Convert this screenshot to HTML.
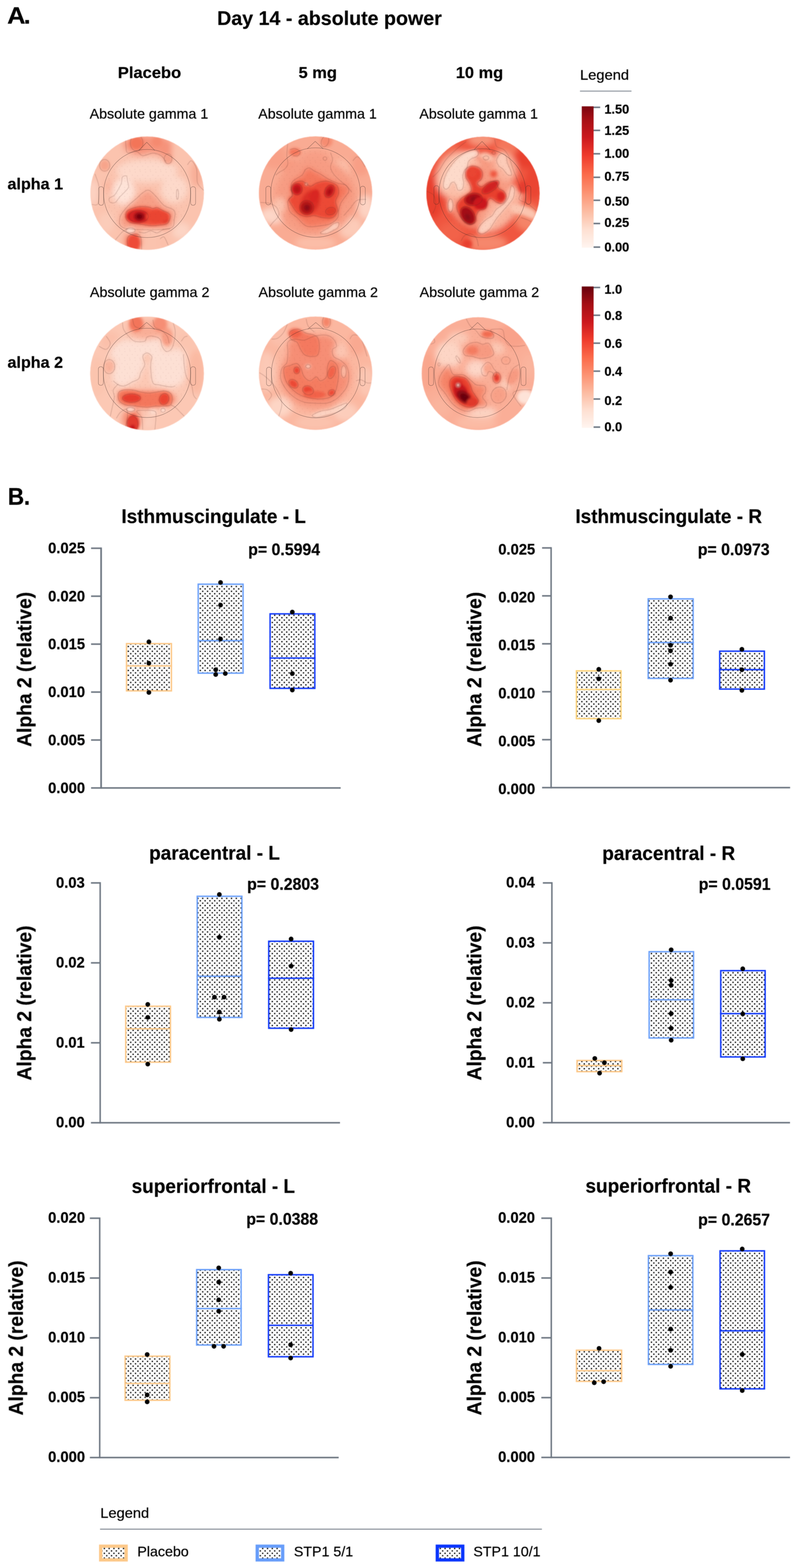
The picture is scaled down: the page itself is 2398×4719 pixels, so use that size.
<!DOCTYPE html>
<html lang="en">
<head>
<meta charset="utf-8">
<title>Day 14 - absolute power</title>
<style>
html,body{margin:0;padding:0;background:#fff;}
body{width:2398px;height:4719px;}
svg{display:block;font-family:'Liberation Sans', sans-serif;fill:#000;}
text{stroke:#000;stroke-width:0.45px;stroke-linejoin:round;}
</style>
</head>
<body>
<svg width="2398" height="4719" viewBox="0 0 2398 4719">
<defs>
<pattern id="dots" width="14.44" height="14.44" patternUnits="userSpaceOnUse">
<rect x="1.5" y="1.5" width="3.9" height="3.9" fill="#000"/>
<rect x="8.72" y="8.72" width="3.9" height="3.9" fill="#000"/>
</pattern>
<linearGradient id="cb" x1="0" y1="0" x2="0" y2="1">
<stop offset="0" stop-color="#67000d"/>
<stop offset="0.125" stop-color="#a50f15"/>
<stop offset="0.25" stop-color="#cb181d"/>
<stop offset="0.375" stop-color="#ef3b2c"/>
<stop offset="0.5" stop-color="#fb6a4a"/>
<stop offset="0.625" stop-color="#fc9272"/>
<stop offset="0.75" stop-color="#fcbba1"/>
<stop offset="0.875" stop-color="#fee0d2"/>
<stop offset="1" stop-color="#fff5f0"/>
</linearGradient>
<linearGradient id="cb1" x1="0" y1="0" x2="0" y2="1">
<stop offset="0" stop-color="#7b0510"/>
<stop offset="0.0885" stop-color="#a50f15"/>
<stop offset="0.21875" stop-color="#cb181d"/>
<stop offset="0.349" stop-color="#ef3b2c"/>
<stop offset="0.479" stop-color="#fb6a4a"/>
<stop offset="0.609" stop-color="#fc9272"/>
<stop offset="0.74" stop-color="#fcbba1"/>
<stop offset="0.87" stop-color="#fee0d2"/>
<stop offset="1" stop-color="#fff5f0"/>
</linearGradient>
<filter id="soft" color-interpolation-filters="sRGB" filterUnits="userSpaceOnUse" x="0" y="0" width="2398" height="4719"><feGaussianBlur stdDeviation="0.8" result="b"/><feComposite in="SourceGraphic" in2="b" operator="arithmetic" k1="0" k2="0.45" k3="0.55" k4="0"/></filter>
<filter id="bl" x="-50%" y="-50%" width="200%" height="200%"><feGaussianBlur stdDeviation="9"/></filter>
<filter id="bm" x="-50%" y="-50%" width="200%" height="200%"><feGaussianBlur stdDeviation="5"/></filter>
<filter id="bh" x="-50%" y="-50%" width="200%" height="200%"><feGaussianBlur stdDeviation="3"/></filter>
<filter id="be" x="-5%" y="-5%" width="110%" height="110%"><feGaussianBlur stdDeviation="1.1"/></filter>
<pattern id="sens" width="31" height="27" patternUnits="userSpaceOnUse"><circle cx="4" cy="5" r="0.95" fill="#6a3a30"/><circle cx="19" cy="3" r="0.95" fill="#6a3a30"/><circle cx="11" cy="16" r="0.95" fill="#6a3a30"/><circle cx="26" cy="14" r="0.95" fill="#6a3a30"/><circle cx="3" cy="24" r="0.95" fill="#6a3a30"/><circle cx="18" cy="25" r="0.95" fill="#6a3a30"/></pattern>
<clipPath id="tc0"><circle cx="442.75" cy="581.4" r="170.7"/></clipPath>
<clipPath id="tc1"><circle cx="949.4" cy="580.9" r="170.4"/></clipPath>
<clipPath id="tc2"><circle cx="1453.2" cy="581.8" r="170.3"/></clipPath>
<clipPath id="tc3"><circle cx="442.4" cy="1124" r="171"/></clipPath>
<clipPath id="tc4"><circle cx="949.4" cy="1123.2" r="170.4"/></clipPath>
<clipPath id="tc5"><circle cx="1438.5" cy="1124.3" r="169.6"/></clipPath>
</defs>
<rect width="2398" height="4719" fill="#fff"/>
<g filter="url(#be)"><g clip-path="url(#tc0)">
<rect x="232.05" y="370.7" width="421.4" height="421.4" fill="#fbc3ae"/>
<g filter="url(#bl)">
<rect x="232.05" y="370.7" width="421.4" height="421.4" fill="#fbc3ae"/>
<path d="M371.4 425.8C375.5 419.0 390.2 413.5 402.0 410.6C413.7 407.6 427.9 407.9 441.7 408.1C455.4 408.3 472.2 408.8 484.5 411.8C496.7 414.7 509.7 417.9 515.0 425.8C520.4 433.8 517.1 449.8 516.5 459.4C516.0 469.1 514.8 479.3 512.0 483.9C509.2 488.5 504.3 489.5 499.7 487.0C495.2 484.4 492.1 472.9 484.5 468.6C476.8 464.3 464.1 461.0 453.9 461.0C443.7 461.0 433.5 468.9 423.3 468.6C413.2 468.4 400.4 462.3 392.8 459.4C385.1 456.6 381.1 457.4 377.5 451.8C373.9 446.2 367.3 432.7 371.4 425.8Z" fill="#f6937a"/>
<ellipse cx="591.4" cy="523.6" rx="18.3" ry="39.7" fill="#f8ad96"/>
<ellipse cx="327.1" cy="560.3" rx="13.8" ry="18.3" fill="#f9b49d"/>
<ellipse cx="441.7" cy="514.5" rx="91.7" ry="33.6" fill="#fdd9ca"/>
<ellipse cx="371.4" cy="575.6" rx="33.6" ry="39.7" fill="#fee3d8"/>
<ellipse cx="524.2" cy="569.5" rx="39.7" ry="39.7" fill="#fdd9ca"/>
<path d="M447.8 572.5C454.4 574.3 461.5 583.2 469.2 590.8C476.8 598.5 484.5 611.2 493.6 618.3C502.8 625.5 519.1 626.5 524.2 633.6C529.3 640.8 525.7 652.5 524.2 661.1C522.7 669.8 526.7 680.5 515.0 685.6C503.3 690.7 477.8 691.7 453.9 691.7C430.0 691.7 386.9 691.7 371.4 685.6C355.9 679.5 358.7 665.7 360.7 655.0C362.7 644.3 375.2 631.1 383.6 621.4C392.0 611.7 403.5 603.8 411.1 597.0C418.8 590.1 423.3 584.2 429.5 580.2C435.6 576.1 441.2 570.7 447.8 572.5Z" fill="#f79f86"/>
<ellipse cx="398.9" cy="725.3" rx="27.5" ry="30.6" fill="#f6957b"/>
<ellipse cx="493.6" cy="731.4" rx="13.8" ry="18.3" fill="#fbbfa9"/>
<ellipse cx="545.6" cy="694.7" rx="27.5" ry="24.4" fill="#fcd4c4"/>
<ellipse cx="319.4" cy="670.3" rx="24.4" ry="30.6" fill="#fbccb9"/>
<ellipse cx="279.7" cy="578.6" rx="15.3" ry="36.7" fill="#fcd2c2"/>
</g>
<g filter="url(#bm)">
<ellipse cx="411.1" cy="430.4" rx="21.4" ry="19.9" fill="#f37458"/>
<ellipse cx="472.2" cy="425.8" rx="15.3" ry="15.3" fill="#f58a6f"/>
<ellipse cx="314.9" cy="497.6" rx="15.3" ry="16.8" fill="#f7a48b"/>
<ellipse cx="505.9" cy="477.8" rx="12.2" ry="15.3" fill="#f6a088"/>
<path d="M378.1 645.9C378.6 641.3 379.1 637.2 383.6 633.6C388.1 630.1 398.4 626.5 405.0 624.5C411.6 622.4 416.2 621.7 423.3 621.4C430.5 621.2 441.7 621.9 447.8 622.9C453.9 624.0 455.9 627.3 460.0 627.5C464.1 627.8 467.1 623.4 472.2 624.5C477.3 625.5 484.5 630.6 490.6 633.6C496.7 636.7 505.3 639.2 508.9 642.8C512.5 646.4 513.0 649.9 512.0 655.0C510.9 660.1 508.4 669.5 502.8 673.4C497.2 677.2 486.5 676.9 478.3 677.9C470.2 679.0 463.1 680.0 453.9 679.5C444.7 679.0 433.5 676.4 423.3 674.9C413.2 673.4 399.9 672.6 392.8 670.3C385.7 668.0 383.0 665.2 380.6 661.1C378.1 657.1 377.6 650.4 378.1 645.9Z" fill="#ef4f3a"/>
<ellipse cx="392.8" cy="693.2" rx="13.8" ry="7.6" fill="#fddfd3"/>
<ellipse cx="460.0" cy="699.3" rx="33.6" ry="6.7" fill="#fbc7b3"/>
<ellipse cx="402.0" cy="731.4" rx="20.8" ry="27.5" fill="#ee4b37"/>
</g>
<g filter="url(#bh)">
<ellipse cx="415.7" cy="651.4" rx="35.1" ry="19.6" fill="#d42421"/>
<ellipse cx="419.4" cy="651.7" rx="16.8" ry="13.8" fill="#9a0c13"/>
<ellipse cx="419.4" cy="651.7" rx="7.9" ry="6.7" fill="#6d010e"/>
<ellipse cx="458.5" cy="655.0" rx="9.8" ry="9.2" fill="#e0382c"/>
<ellipse cx="494.2" cy="660.5" rx="12.2" ry="10.4" fill="#dc3a2c"/>
<ellipse cx="472.2" cy="652.0" rx="33.6" ry="18.3" fill="#ea4532"/>
</g>
<path d="M378.1 645.9C378.6 641.3 379.1 637.2 383.6 633.6C388.1 630.1 398.4 626.5 405.0 624.5C411.6 622.4 416.2 621.7 423.3 621.4C430.5 621.2 441.7 621.9 447.8 622.9C453.9 624.0 455.9 627.3 460.0 627.5C464.1 627.8 467.1 623.4 472.2 624.5C477.3 625.5 484.5 630.6 490.6 633.6C496.7 636.7 505.3 639.2 508.9 642.8C512.5 646.4 513.0 649.9 512.0 655.0C510.9 660.1 508.4 669.5 502.8 673.4C497.2 677.2 486.5 676.9 478.3 677.9C470.2 679.0 463.1 680.0 453.9 679.5C444.7 679.0 433.5 676.4 423.3 674.9C413.2 673.4 399.9 672.6 392.8 670.3C385.7 668.0 383.0 665.2 380.6 661.1C378.1 657.1 377.6 650.4 378.1 645.9Z" fill="none" stroke="#5a3028" stroke-opacity="0.34" stroke-width="1.5"/>
<path d="M447.8 572.5C454.4 574.3 461.5 583.2 469.2 590.8C476.8 598.5 484.5 611.2 493.6 618.3C502.8 625.5 519.1 626.5 524.2 633.6C529.3 640.8 525.7 652.5 524.2 661.1C522.7 669.8 526.7 680.5 515.0 685.6C503.3 690.7 477.8 691.7 453.9 691.7C430.0 691.7 386.9 691.7 371.4 685.6C355.9 679.5 358.7 665.7 360.7 655.0C362.7 644.3 375.2 631.1 383.6 621.4C392.0 611.7 403.5 603.8 411.1 597.0C418.8 590.1 423.3 584.2 429.5 580.2C435.6 576.1 441.2 570.7 447.8 572.5Z" fill="none" stroke="#5a3028" stroke-opacity="0.34" stroke-width="1.5"/>
<ellipse cx="417.2" cy="651.4" rx="29.0" ry="18.3" fill="none" stroke="#5a3028" stroke-opacity="0.34" stroke-width="1.5"/>
<path d="M368.3 532.8C370.9 529.2 378.0 527.7 380.6 529.7C383.1 531.8 382.6 539.4 383.6 545.0C384.6 550.6 388.2 557.7 386.7 563.3C385.1 568.9 379.0 573.5 374.5 578.6C369.9 583.7 363.8 588.8 359.2 593.9C354.6 599.0 351.5 606.6 347.0 609.2C342.4 611.7 334.7 611.2 331.7 609.2C328.6 607.1 326.6 600.5 328.6 597.0C330.7 593.4 339.3 592.4 343.9 587.8C348.5 583.2 352.6 575.6 356.1 569.5C359.7 563.3 363.2 557.2 365.3 551.1C367.3 545.0 365.8 536.4 368.3 532.8Z" fill="none" stroke="#5a3028" stroke-opacity="0.34" stroke-width="1.5"/>
<ellipse cx="534.0" cy="584.7" rx="3.1" ry="15.3" fill="none" stroke="#5a3028" stroke-opacity="0.34" stroke-width="1.5"/>
<ellipse cx="392.8" cy="693.2" rx="13.8" ry="7.6" fill="none" stroke="#5a3028" stroke-opacity="0.34" stroke-width="1.5"/>
<ellipse cx="411.1" cy="430.4" rx="18.9" ry="24.4" fill="none" stroke="#5a3028" stroke-opacity="0.34" stroke-width="1.5"/>
<ellipse cx="314.9" cy="497.6" rx="15.3" ry="17.7" fill="none" stroke="#5a3028" stroke-opacity="0.34" stroke-width="1.5"/>
<ellipse cx="505.9" cy="477.8" rx="11.6" ry="14.7" fill="none" stroke="#5a3028" stroke-opacity="0.34" stroke-width="1.5"/>
<path d="M377.5 413.6C377.8 418.2 378.0 433.5 379.0 441.1C380.1 448.8 378.3 456.9 383.6 459.4C389.0 462.0 403.5 454.9 411.1 456.4C418.8 457.9 421.3 467.9 429.5 468.6C437.6 469.4 450.8 461.0 460.0 461.0C469.2 461.0 477.8 464.3 484.5 468.6C491.1 472.9 497.2 483.9 499.7 487.0" fill="none" stroke="#5a3028" stroke-opacity="0.34" stroke-width="1.5"/>
<path d="M563.9 496.1C565.9 494.1 571.6 481.9 576.1 483.9C580.7 485.9 588.4 497.1 591.4 508.3C594.5 519.5 590.4 539.9 594.5 551.1C598.5 562.3 612.3 571.5 615.9 575.6" fill="none" stroke="#5a3028" stroke-opacity="0.34" stroke-width="1.5"/>
<path d="M276.7 615.3C279.7 614.8 291.4 620.9 295.0 612.2C298.6 603.6 299.6 578.1 298.1 563.3C296.5 548.6 287.9 530.2 285.8 523.6" fill="none" stroke="#5a3028" stroke-opacity="0.34" stroke-width="1.5"/>
<path d="M386.7 751.3C386.2 745.4 380.6 724.0 383.6 716.1C386.7 708.2 398.4 704.4 405.0 703.9C411.6 703.4 419.8 705.2 423.3 713.1C426.9 721.0 425.9 744.9 426.4 751.3" fill="none" stroke="#5a3028" stroke-opacity="0.34" stroke-width="1.5"/>
<path d="M481.4 719.2C483.4 718.2 489.6 710.0 493.6 713.1C497.7 716.1 503.8 733.5 505.9 737.5" fill="none" stroke="#5a3028" stroke-opacity="0.34" stroke-width="1.5"/>
<path d="M347.0 722.2C350.5 718.2 362.2 703.4 368.3 697.8C374.5 692.2 381.1 690.2 383.6 688.6" fill="none" stroke="#5a3028" stroke-opacity="0.34" stroke-width="1.5"/>
<path d="M417.2 697.8C420.3 698.3 429.5 701.4 435.6 700.9C441.7 700.3 447.8 694.7 453.9 694.7C460.0 694.7 466.1 701.4 472.2 700.9C478.3 700.3 484.0 693.7 490.6 691.7C497.2 689.7 508.4 689.1 512.0 688.6" fill="none" stroke="#5a3028" stroke-opacity="0.34" stroke-width="1.5"/>
<circle cx="442.6" cy="582.3" r="124.9" fill="url(#sens)" opacity="0.22"/>
</g></g>
<ellipse cx="442.6" cy="582.3" rx="130.9" ry="132.6" fill="none" stroke="#3a2a28" stroke-opacity="0.36" stroke-width="1.8"/>
<path d="M417.6 452.69999999999993 L441.6 428.19999999999993 L465.6 452.69999999999993" fill="none" stroke="#3a2a28" stroke-opacity="0.36" stroke-width="1.8" stroke-linejoin="round"/>
<rect x="296.70000000000005" y="561.8" width="15" height="56" rx="7" ry="7" fill="none" stroke="#3a2a28" stroke-opacity="0.36" stroke-width="1.8"/>
<rect x="573.5" y="561.8" width="15" height="56" rx="7" ry="7" fill="none" stroke="#3a2a28" stroke-opacity="0.36" stroke-width="1.8"/>
<g filter="url(#be)"><g clip-path="url(#tc1)">
<rect x="739.0" y="370.5" width="420.8" height="420.8" fill="#f9ab93"/>
<g filter="url(#bl)">
<rect x="739.0" y="370.5" width="420.8" height="420.8" fill="#f9ab93"/>
<ellipse cx="826.4" cy="471.7" rx="36.7" ry="36.7" fill="#f8a087"/>
<ellipse cx="820.3" cy="648.9" rx="39.7" ry="24.4" fill="#fdd6c7"/>
<ellipse cx="948.6" cy="731.4" rx="61.1" ry="21.4" fill="#fbbda7"/>
<ellipse cx="1055.6" cy="685.6" rx="36.7" ry="33.6" fill="#fccbb8"/>
<ellipse cx="1101.4" cy="624.5" rx="24.4" ry="36.7" fill="#fdd3c3"/>
<ellipse cx="1086.1" cy="496.1" rx="27.5" ry="33.6" fill="#f89f86"/>
<ellipse cx="948.6" cy="480.8" rx="45.8" ry="27.5" fill="#f89f86"/>
<ellipse cx="1025.0" cy="517.5" rx="27.5" ry="36.7" fill="#fbbfa9"/>
<ellipse cx="878.3" cy="502.2" rx="30.6" ry="24.4" fill="#f89a80"/>
<ellipse cx="948.6" cy="593.9" rx="122.2" ry="116.1" fill="#f79c83"/>
<path d="M930.3 505.3C934.9 505.8 940.0 511.4 945.6 514.5C951.2 517.5 956.8 519.5 963.9 523.6C971.0 527.7 979.7 534.3 988.3 538.9C997.0 543.5 1007.2 548.1 1015.9 551.1C1024.5 554.2 1034.7 553.2 1040.3 557.2C1045.9 561.3 1050.0 569.5 1049.5 575.6C1049.0 581.7 1041.3 587.8 1037.2 593.9C1033.2 600.0 1028.1 605.6 1025.0 612.2C1022.0 618.9 1020.4 626.5 1018.9 633.6C1017.4 640.8 1019.9 648.4 1015.9 655.0C1011.8 661.6 1003.1 669.3 994.5 673.4C985.8 677.4 974.1 677.9 963.9 679.5C953.7 681.0 941.5 683.0 933.3 682.5C925.2 682.0 921.6 681.0 915.0 676.4C908.4 671.8 900.8 661.6 893.6 655.0C886.5 648.4 876.8 644.8 872.2 636.7C867.6 628.5 865.1 614.3 866.1 606.1C867.1 598.0 876.8 594.9 878.3 587.8C879.9 580.7 874.8 570.5 875.3 563.3C875.8 556.2 875.8 551.1 881.4 545.0C887.0 538.9 902.8 532.3 908.9 526.7C915.0 521.1 914.5 515.0 918.1 511.4C921.6 507.8 925.7 504.8 930.3 505.3Z" fill="#f4775c"/>
<ellipse cx="841.7" cy="618.3" rx="18.3" ry="24.4" fill="#fbc3ae"/>
</g>
<g filter="url(#bm)">
<ellipse cx="982.2" cy="425.8" rx="18.3" ry="16.8" fill="#f68c71"/>
<ellipse cx="887.5" cy="457.9" rx="18.3" ry="12.2" fill="#f4775c"/>
<path d="M884.5 551.1C890.1 547.0 900.8 543.5 908.9 545.0C917.0 546.5 926.2 559.3 933.3 560.3C940.5 561.3 943.5 553.7 951.7 551.1C959.8 548.6 972.1 544.0 982.2 545.0C992.4 546.0 1006.7 551.1 1012.8 557.2C1018.9 563.3 1019.4 573.5 1018.9 581.7C1018.4 589.8 1010.2 597.5 1009.7 606.1C1009.2 614.8 1017.4 625.5 1015.9 633.6C1014.3 641.8 1008.2 651.5 1000.6 655.0C992.9 658.6 979.2 656.0 970.0 655.0C960.8 654.0 953.7 649.4 945.6 648.9C937.4 648.4 929.3 653.0 921.1 652.0C913.0 650.9 903.8 648.4 896.7 642.8C889.5 637.2 882.9 625.5 878.3 618.3C873.8 611.2 868.7 605.1 869.2 600.0C869.7 594.9 880.4 592.9 881.4 587.8C882.4 582.7 874.8 575.6 875.3 569.5C875.8 563.3 878.9 555.2 884.5 551.1Z" fill="#ec4a36"/>
<ellipse cx="933.3" cy="609.2" rx="27.5" ry="39.7" fill="#dc2f27" transform="rotate(25 933.3 609.2)"/>
<path d="M963.9 700.9C965.4 697.8 981.7 690.2 988.3 685.6C995.0 681.0 998.5 675.9 1003.6 673.4C1008.7 670.8 1016.9 668.3 1018.9 670.3C1020.9 672.3 1019.9 681.0 1015.9 685.6C1011.8 690.2 1000.6 694.7 994.5 697.8C988.3 700.9 984.3 703.4 979.2 703.9C974.1 704.4 962.4 703.9 963.9 700.9Z" fill="#fccfbd"/>
</g>
<g filter="url(#bh)">
<ellipse cx="893.6" cy="569.5" rx="14.7" ry="15.9" fill="#c9181d"/>
<ellipse cx="893.6" cy="570.1" rx="6.7" ry="7.3" fill="#b01217"/>
<ellipse cx="991.4" cy="575.6" rx="12.8" ry="18.9" fill="#c41a1f" transform="rotate(25 991.4 575.6)"/>
<ellipse cx="991.4" cy="577.1" rx="5.5" ry="9.2" fill="#a91016" transform="rotate(25 991.4 577.1)"/>
<ellipse cx="922.7" cy="624.5" rx="18.9" ry="18.9" fill="#b01217"/>
<ellipse cx="923.6" cy="625.1" rx="8.6" ry="8.6" fill="#8c0a12"/>
<ellipse cx="994.5" cy="635.2" rx="15.3" ry="11.0" fill="#e03a2c" transform="rotate(-15 994.5 635.2)"/>
<ellipse cx="945.6" cy="590.8" rx="12.2" ry="21.4" fill="#d92723" transform="rotate(25 945.6 590.8)"/>
<ellipse cx="921.7" cy="554.2" rx="4.3" ry="4.3" fill="#fbb9a3"/>
</g>
<path d="M930.3 505.3C934.9 505.8 940.0 511.4 945.6 514.5C951.2 517.5 956.8 519.5 963.9 523.6C971.0 527.7 979.7 534.3 988.3 538.9C997.0 543.5 1007.2 548.1 1015.9 551.1C1024.5 554.2 1034.7 553.2 1040.3 557.2C1045.9 561.3 1050.0 569.5 1049.5 575.6C1049.0 581.7 1041.3 587.8 1037.2 593.9C1033.2 600.0 1028.1 605.6 1025.0 612.2C1022.0 618.9 1020.4 626.5 1018.9 633.6C1017.4 640.8 1019.9 648.4 1015.9 655.0C1011.8 661.6 1003.1 669.3 994.5 673.4C985.8 677.4 974.1 677.9 963.9 679.5C953.7 681.0 941.5 683.0 933.3 682.5C925.2 682.0 921.6 681.0 915.0 676.4C908.4 671.8 900.8 661.6 893.6 655.0C886.5 648.4 876.8 644.8 872.2 636.7C867.6 628.5 865.1 614.3 866.1 606.1C867.1 598.0 876.8 594.9 878.3 587.8C879.9 580.7 874.8 570.5 875.3 563.3C875.8 556.2 875.8 551.1 881.4 545.0C887.0 538.9 902.8 532.3 908.9 526.7C915.0 521.1 914.5 515.0 918.1 511.4C921.6 507.8 925.7 504.8 930.3 505.3Z" fill="none" stroke="#5a3028" stroke-opacity="0.34" stroke-width="1.5"/>
<path d="M884.5 551.1C890.1 547.0 900.8 543.5 908.9 545.0C917.0 546.5 926.2 559.3 933.3 560.3C940.5 561.3 943.5 553.7 951.7 551.1C959.8 548.6 972.1 544.0 982.2 545.0C992.4 546.0 1006.7 551.1 1012.8 557.2C1018.9 563.3 1019.4 573.5 1018.9 581.7C1018.4 589.8 1010.2 597.5 1009.7 606.1C1009.2 614.8 1017.4 625.5 1015.9 633.6C1014.3 641.8 1008.2 651.5 1000.6 655.0C992.9 658.6 979.2 656.0 970.0 655.0C960.8 654.0 953.7 649.4 945.6 648.9C937.4 648.4 929.3 653.0 921.1 652.0C913.0 650.9 903.8 648.4 896.7 642.8C889.5 637.2 882.9 625.5 878.3 618.3C873.8 611.2 868.7 605.1 869.2 600.0C869.7 594.9 880.4 592.9 881.4 587.8C882.4 582.7 874.8 575.6 875.3 569.5C875.8 563.3 878.9 555.2 884.5 551.1Z" fill="none" stroke="#5a3028" stroke-opacity="0.34" stroke-width="1.5"/>
<ellipse cx="893.6" cy="569.5" rx="15.9" ry="17.1" fill="none" stroke="#5a3028" stroke-opacity="0.34" stroke-width="1.5"/>
<ellipse cx="991.4" cy="575.6" rx="14.1" ry="20.2" fill="none" stroke="#5a3028" stroke-opacity="0.34" stroke-width="1.5" transform="rotate(25 991.4 575.6)"/>
<ellipse cx="922.7" cy="624.5" rx="21.4" ry="21.4" fill="none" stroke="#5a3028" stroke-opacity="0.34" stroke-width="1.5"/>
<ellipse cx="994.5" cy="635.2" rx="15.3" ry="11.0" fill="none" stroke="#5a3028" stroke-opacity="0.34" stroke-width="1.5" transform="rotate(-15 994.5 635.2)"/>
<ellipse cx="921.7" cy="554.2" rx="4.9" ry="4.9" fill="none" stroke="#5a3028" stroke-opacity="0.34" stroke-width="1.5"/>
<ellipse cx="977.7" cy="477.2" rx="5.5" ry="5.5" fill="none" stroke="#5a3028" stroke-opacity="0.34" stroke-width="1.5"/>
<ellipse cx="977.7" cy="425.8" rx="10.7" ry="16.8" fill="none" stroke="#5a3028" stroke-opacity="0.34" stroke-width="1.5" transform="rotate(20 977.7 425.8)"/>
<path d="M963.9 700.9C965.4 697.8 981.7 690.2 988.3 685.6C995.0 681.0 998.5 675.9 1003.6 673.4C1008.7 670.8 1016.9 668.3 1018.9 670.3C1020.9 672.3 1019.9 681.0 1015.9 685.6C1011.8 690.2 1000.6 694.7 994.5 697.8C988.3 700.9 984.3 703.4 979.2 703.9C974.1 704.4 962.4 703.9 963.9 700.9Z" fill="none" stroke="#5a3028" stroke-opacity="0.34" stroke-width="1.5"/>
<path d="M866.1 425.8C865.6 432.5 863.1 454.4 863.1 465.6C863.1 476.8 867.1 485.9 866.1 493.1C865.1 500.2 861.0 504.3 857.0 508.3C852.9 512.4 846.3 514.5 841.7 517.5C837.1 520.6 831.5 525.1 829.4 526.7" fill="none" stroke="#5a3028" stroke-opacity="0.34" stroke-width="1.5"/>
<path d="M994.5 459.4C995.5 463.0 1000.6 473.7 1000.6 480.8C1000.6 488.0 994.0 495.1 994.5 502.2C995.0 509.4 998.5 516.5 1003.6 523.6C1008.7 530.8 1018.4 538.9 1025.0 545.0C1031.6 551.1 1037.8 554.7 1043.4 560.3C1049.0 565.9 1056.1 575.6 1058.6 578.6" fill="none" stroke="#5a3028" stroke-opacity="0.34" stroke-width="1.5"/>
<path d="M1034.2 648.9C1037.8 644.8 1049.0 632.1 1055.6 624.5C1062.2 616.8 1066.3 607.1 1073.9 603.1C1081.6 599.0 1096.8 600.5 1101.4 600.0" fill="none" stroke="#5a3028" stroke-opacity="0.34" stroke-width="1.5"/>
<path d="M783.6 609.2C788.2 609.7 803.0 609.7 811.1 612.2C819.3 614.8 827.9 618.3 832.5 624.5C837.1 630.6 840.7 641.3 838.6 648.9C836.6 656.5 824.9 664.7 820.3 670.3C815.7 675.9 812.6 680.5 811.1 682.5" fill="none" stroke="#5a3028" stroke-opacity="0.34" stroke-width="1.5"/>
<path d="M1061.7 483.9C1063.7 481.9 1069.8 472.2 1073.9 471.7C1078.0 471.2 1082.1 475.7 1086.1 480.8C1090.2 485.9 1096.3 498.7 1098.4 502.2" fill="none" stroke="#5a3028" stroke-opacity="0.34" stroke-width="1.5"/>
<path d="M872.2 450.3C874.8 449.8 882.4 446.2 887.5 447.2C892.6 448.2 901.3 452.8 902.8 456.4C904.3 460.0 900.2 466.6 896.7 468.6C893.1 470.7 883.9 468.6 881.4 468.6" fill="none" stroke="#5a3028" stroke-opacity="0.34" stroke-width="1.5"/>
<circle cx="949.4" cy="579.5" r="128.6" fill="url(#sens)" opacity="0.22"/>
</g></g>
<ellipse cx="949.4" cy="579.5" rx="134.6" ry="134.6" fill="none" stroke="#3a2a28" stroke-opacity="0.36" stroke-width="1.8"/>
<path d="M924.4 447.9 L948.4 425.4 L972.4 447.9" fill="none" stroke="#3a2a28" stroke-opacity="0.36" stroke-width="1.8" stroke-linejoin="round"/>
<rect x="799.8" y="560.5" width="15" height="56" rx="7" ry="7" fill="none" stroke="#3a2a28" stroke-opacity="0.36" stroke-width="1.8"/>
<rect x="1084.0" y="560.5" width="15" height="56" rx="7" ry="7" fill="none" stroke="#3a2a28" stroke-opacity="0.36" stroke-width="1.8"/>
<g filter="url(#be)"><g clip-path="url(#tc2)">
<rect x="1242.9" y="371.49999999999994" width="420.6" height="420.6" fill="#f0573f"/>
<g filter="url(#bl)">
<rect x="1242.9" y="371.49999999999994" width="420.6" height="420.6" fill="#f0573f"/>
<ellipse cx="1301.9" cy="593.9" rx="33.6" ry="67.2" fill="#e8402f"/>
<ellipse cx="1341.7" cy="456.4" rx="36.7" ry="36.7" fill="#f26a50"/>
<ellipse cx="1448.6" cy="419.7" rx="39.7" ry="18.3" fill="#f7967c"/>
<ellipse cx="1525.0" cy="441.1" rx="33.6" ry="30.6" fill="#f4775c"/>
<ellipse cx="1586.1" cy="471.7" rx="36.7" ry="36.7" fill="#e8402f"/>
<ellipse cx="1607.5" cy="551.1" rx="27.5" ry="48.9" fill="#ea4532"/>
<ellipse cx="1586.1" cy="655.0" rx="36.7" ry="39.7" fill="#f58468"/>
<ellipse cx="1463.9" cy="731.4" rx="61.1" ry="24.4" fill="#f6876c"/>
<ellipse cx="1357.0" cy="700.9" rx="36.7" ry="30.6" fill="#f26248"/>
<ellipse cx="1445.6" cy="575.6" rx="100.8" ry="110.0" fill="#f79a81"/>
<ellipse cx="1378.3" cy="526.7" rx="61.1" ry="73.3" fill="#fbbfa9" transform="rotate(35 1378.3 526.7)"/>
<ellipse cx="1512.8" cy="630.6" rx="36.7" ry="79.4" fill="#fab49d" transform="rotate(40 1512.8 630.6)"/>
<ellipse cx="1518.9" cy="502.2" rx="33.6" ry="45.8" fill="#fab49d" transform="rotate(-20 1518.9 502.2)"/>
</g>
<g filter="url(#bm)">
<path d="M1334.0 560.3C1333.5 554.2 1335.8 541.4 1338.6 532.8C1341.4 524.1 1345.7 516.5 1350.8 508.3C1355.9 500.2 1362.6 491.0 1369.2 483.9C1375.8 476.8 1382.9 470.7 1390.6 465.6C1398.2 460.5 1407.9 455.6 1415.0 453.3C1422.1 451.0 1429.3 450.3 1433.3 451.8C1437.4 453.3 1439.5 459.2 1439.5 462.5C1439.5 465.8 1436.9 469.1 1433.3 471.7C1429.8 474.2 1422.1 475.2 1418.1 477.8C1414.0 480.3 1410.9 482.9 1408.9 487.0C1406.9 491.0 1407.9 497.6 1405.8 502.2C1403.8 506.8 1399.0 509.4 1396.7 514.5C1394.4 519.5 1392.3 526.7 1392.1 532.8C1391.8 538.9 1395.4 545.0 1395.1 551.1C1394.9 557.2 1393.4 565.9 1390.6 569.5C1387.8 573.0 1381.4 574.6 1378.3 572.5C1375.3 570.5 1374.3 561.3 1372.2 557.2C1370.2 553.2 1368.7 549.1 1366.1 548.1C1363.6 547.0 1359.5 548.6 1357.0 551.1C1354.4 553.7 1353.4 560.3 1350.8 563.3C1348.3 566.4 1344.5 570.0 1341.7 569.5C1338.9 568.9 1334.5 566.4 1334.0 560.3Z" fill="#fddaca"/>
<path d="M1494.5 480.8C1495.5 474.7 1502.1 464.5 1506.7 462.5C1511.3 460.5 1518.7 464.0 1522.0 468.6C1525.3 473.2 1524.3 482.9 1526.5 490.0C1528.8 497.1 1533.7 505.3 1535.7 511.4C1537.8 517.5 1540.3 524.4 1538.8 526.7C1537.2 529.0 1530.9 528.2 1526.5 525.1C1522.2 522.1 1517.1 512.7 1512.8 508.3C1508.5 504.0 1503.6 503.8 1500.6 499.2C1497.5 494.6 1493.4 487.0 1494.5 480.8Z" fill="#fccbb8"/>
<path d="M1538.8 558.8C1541.1 557.7 1546.9 563.6 1547.9 569.5C1549.0 575.3 1547.4 586.8 1544.9 593.9C1542.3 601.0 1537.8 605.6 1532.7 612.2C1527.6 618.9 1520.4 626.5 1514.3 633.6C1508.2 640.8 1501.1 648.4 1496.0 655.0C1490.9 661.6 1487.8 667.2 1483.8 673.4C1479.7 679.5 1476.9 686.6 1471.5 691.7C1466.2 696.8 1457.3 702.9 1451.7 703.9C1446.1 704.9 1439.2 701.9 1437.9 697.8C1436.7 693.7 1440.0 685.6 1444.0 679.5C1448.1 673.4 1456.3 666.2 1462.4 661.1C1468.5 656.0 1475.6 654.0 1480.7 648.9C1485.8 643.8 1486.8 636.7 1492.9 630.6C1499.0 624.5 1511.3 618.3 1517.4 612.2C1523.5 606.1 1526.8 600.0 1529.6 593.9C1532.4 587.8 1532.7 581.4 1534.2 575.6C1535.7 569.7 1536.5 559.8 1538.8 558.8Z" fill="#fccfbd"/>
<ellipse cx="1355.4" cy="618.3" rx="7.6" ry="19.9" fill="#fcd0be"/>
<path d="M1439.5 468.6C1439.5 465.1 1451.7 460.0 1457.8 459.4C1463.9 458.9 1471.0 462.5 1476.1 465.6C1481.2 468.6 1488.3 474.2 1488.3 477.8C1488.3 481.3 1481.2 486.4 1476.1 487.0C1471.0 487.5 1463.9 483.9 1457.8 480.8C1451.7 477.8 1439.5 472.2 1439.5 468.6Z" fill="#fbbfa9"/>
<path d="M1534.5 619.9C1536.9 615.8 1546.7 612.5 1558.9 615.0C1571.2 617.4 1599.7 627.2 1607.8 634.5C1616.0 641.9 1613.9 657.0 1607.8 659.0C1601.7 661.0 1581.8 650.0 1571.2 646.8C1560.6 643.5 1550.4 643.9 1544.3 639.4C1538.2 635.0 1532.0 624.0 1534.5 619.9Z" fill="#fbc4af"/>
<path d="M1402.8 508.3C1406.1 502.7 1414.5 499.7 1421.1 499.2C1427.7 498.7 1437.4 501.7 1442.5 505.3C1447.6 508.9 1450.7 515.0 1451.7 520.6C1452.7 526.2 1451.2 533.8 1448.6 538.9C1446.1 544.0 1436.4 547.3 1436.4 551.1C1436.4 554.9 1443.0 562.3 1448.6 561.8C1454.2 561.3 1462.9 550.4 1470.0 548.1C1477.1 545.8 1486.3 545.0 1491.4 548.1C1496.5 551.1 1496.5 561.8 1500.6 566.4C1504.6 571.0 1512.0 571.0 1515.9 575.6C1519.7 580.2 1524.0 587.8 1523.5 593.9C1523.0 600.0 1517.6 609.7 1512.8 612.2C1508.0 614.8 1500.6 611.7 1494.5 609.2C1488.3 606.6 1481.0 597.0 1476.1 597.0C1471.3 597.0 1468.0 604.1 1465.4 609.2C1462.9 614.3 1464.7 623.4 1460.8 627.5C1457.0 631.6 1447.1 630.1 1442.5 633.6C1437.9 637.2 1435.1 643.3 1433.3 648.9C1431.6 654.5 1434.6 662.9 1431.8 667.2C1429.0 671.6 1422.7 675.4 1416.5 674.9C1410.4 674.4 1401.0 669.0 1395.1 664.2C1389.3 659.3 1385.0 653.5 1381.4 645.9C1377.8 638.2 1372.7 626.5 1373.8 618.3C1374.8 610.2 1382.2 602.6 1387.5 597.0C1392.9 591.4 1400.8 588.8 1405.8 584.7C1410.9 580.7 1417.0 578.1 1418.1 572.5C1419.1 566.9 1414.8 557.7 1412.0 551.1C1409.2 544.5 1402.8 539.9 1401.3 532.8C1399.7 525.7 1399.5 513.9 1402.8 508.3Z" fill="#e8402f"/>
<ellipse cx="1485.3" cy="523.6" rx="10.7" ry="10.7" fill="#f0573f"/>
<ellipse cx="1573.9" cy="563.3" rx="15.3" ry="18.3" fill="#e63e2e"/>
<ellipse cx="1405.8" cy="734.5" rx="15.3" ry="15.3" fill="#e8402f"/>
</g>
<g filter="url(#bh)">
<ellipse cx="1421.1" cy="519.0" rx="13.8" ry="13.8" fill="#ea4532"/>
<ellipse cx="1476.1" cy="563.3" rx="29.0" ry="11.6" fill="#d02222" transform="rotate(-35 1476.1 563.3)"/>
<ellipse cx="1424.2" cy="600.0" rx="26.0" ry="17.7" fill="#a91016" transform="rotate(-10 1424.2 600.0)"/>
<ellipse cx="1407.4" cy="648.9" rx="18.9" ry="28.1" fill="#a30f15" transform="rotate(-30 1407.4 648.9)"/>
<ellipse cx="1506.7" cy="590.8" rx="11.6" ry="12.8" fill="#d92723"/>
<ellipse cx="1425.7" cy="600.0" rx="9.8" ry="7.9" fill="#8c0a12"/>
<ellipse cx="1407.4" cy="653.5" rx="7.9" ry="11.0" fill="#8c0a12" transform="rotate(-30 1407.4 653.5)"/>
<ellipse cx="1445.6" cy="612.2" rx="21.4" ry="18.3" fill="#cb181d"/>
</g>
<path d="M1334.0 560.3C1333.5 554.2 1335.8 541.4 1338.6 532.8C1341.4 524.1 1345.7 516.5 1350.8 508.3C1355.9 500.2 1362.6 491.0 1369.2 483.9C1375.8 476.8 1382.9 470.7 1390.6 465.6C1398.2 460.5 1407.9 455.6 1415.0 453.3C1422.1 451.0 1429.3 450.3 1433.3 451.8C1437.4 453.3 1439.5 459.2 1439.5 462.5C1439.5 465.8 1436.9 469.1 1433.3 471.7C1429.8 474.2 1422.1 475.2 1418.1 477.8C1414.0 480.3 1410.9 482.9 1408.9 487.0C1406.9 491.0 1407.9 497.6 1405.8 502.2C1403.8 506.8 1399.0 509.4 1396.7 514.5C1394.4 519.5 1392.3 526.7 1392.1 532.8C1391.8 538.9 1395.4 545.0 1395.1 551.1C1394.9 557.2 1393.4 565.9 1390.6 569.5C1387.8 573.0 1381.4 574.6 1378.3 572.5C1375.3 570.5 1374.3 561.3 1372.2 557.2C1370.2 553.2 1368.7 549.1 1366.1 548.1C1363.6 547.0 1359.5 548.6 1357.0 551.1C1354.4 553.7 1353.4 560.3 1350.8 563.3C1348.3 566.4 1344.5 570.0 1341.7 569.5C1338.9 568.9 1334.5 566.4 1334.0 560.3Z" fill="none" stroke="#5a3028" stroke-opacity="0.34" stroke-width="1.5"/>
<path d="M1494.5 480.8C1495.5 474.7 1502.1 464.5 1506.7 462.5C1511.3 460.5 1518.7 464.0 1522.0 468.6C1525.3 473.2 1524.3 482.9 1526.5 490.0C1528.8 497.1 1533.7 505.3 1535.7 511.4C1537.8 517.5 1540.3 524.4 1538.8 526.7C1537.2 529.0 1530.9 528.2 1526.5 525.1C1522.2 522.1 1517.1 512.7 1512.8 508.3C1508.5 504.0 1503.6 503.8 1500.6 499.2C1497.5 494.6 1493.4 487.0 1494.5 480.8Z" fill="none" stroke="#5a3028" stroke-opacity="0.34" stroke-width="1.5"/>
<path d="M1538.8 558.8C1541.1 557.7 1546.9 563.6 1547.9 569.5C1549.0 575.3 1547.4 586.8 1544.9 593.9C1542.3 601.0 1537.8 605.6 1532.7 612.2C1527.6 618.9 1520.4 626.5 1514.3 633.6C1508.2 640.8 1501.1 648.4 1496.0 655.0C1490.9 661.6 1487.8 667.2 1483.8 673.4C1479.7 679.5 1476.9 686.6 1471.5 691.7C1466.2 696.8 1457.3 702.9 1451.7 703.9C1446.1 704.9 1439.2 701.9 1437.9 697.8C1436.7 693.7 1440.0 685.6 1444.0 679.5C1448.1 673.4 1456.3 666.2 1462.4 661.1C1468.5 656.0 1475.6 654.0 1480.7 648.9C1485.8 643.8 1486.8 636.7 1492.9 630.6C1499.0 624.5 1511.3 618.3 1517.4 612.2C1523.5 606.1 1526.8 600.0 1529.6 593.9C1532.4 587.8 1532.7 581.4 1534.2 575.6C1535.7 569.7 1536.5 559.8 1538.8 558.8Z" fill="none" stroke="#5a3028" stroke-opacity="0.34" stroke-width="1.5"/>
<path d="M1402.8 508.3C1406.1 502.7 1414.5 499.7 1421.1 499.2C1427.7 498.7 1437.4 501.7 1442.5 505.3C1447.6 508.9 1450.7 515.0 1451.7 520.6C1452.7 526.2 1451.2 533.8 1448.6 538.9C1446.1 544.0 1436.4 547.3 1436.4 551.1C1436.4 554.9 1443.0 562.3 1448.6 561.8C1454.2 561.3 1462.9 550.4 1470.0 548.1C1477.1 545.8 1486.3 545.0 1491.4 548.1C1496.5 551.1 1496.5 561.8 1500.6 566.4C1504.6 571.0 1512.0 571.0 1515.9 575.6C1519.7 580.2 1524.0 587.8 1523.5 593.9C1523.0 600.0 1517.6 609.7 1512.8 612.2C1508.0 614.8 1500.6 611.7 1494.5 609.2C1488.3 606.6 1481.0 597.0 1476.1 597.0C1471.3 597.0 1468.0 604.1 1465.4 609.2C1462.9 614.3 1464.7 623.4 1460.8 627.5C1457.0 631.6 1447.1 630.1 1442.5 633.6C1437.9 637.2 1435.1 643.3 1433.3 648.9C1431.6 654.5 1434.6 662.9 1431.8 667.2C1429.0 671.6 1422.7 675.4 1416.5 674.9C1410.4 674.4 1401.0 669.0 1395.1 664.2C1389.3 659.3 1385.0 653.5 1381.4 645.9C1377.8 638.2 1372.7 626.5 1373.8 618.3C1374.8 610.2 1382.2 602.6 1387.5 597.0C1392.9 591.4 1400.8 588.8 1405.8 584.7C1410.9 580.7 1417.0 578.1 1418.1 572.5C1419.1 566.9 1414.8 557.7 1412.0 551.1C1409.2 544.5 1402.8 539.9 1401.3 532.8C1399.7 525.7 1399.5 513.9 1402.8 508.3Z" fill="none" stroke="#5a3028" stroke-opacity="0.34" stroke-width="1.5"/>
<ellipse cx="1355.4" cy="618.3" rx="7.6" ry="19.9" fill="none" stroke="#5a3028" stroke-opacity="0.34" stroke-width="1.5"/>
<ellipse cx="1462.4" cy="475.3" rx="8.6" ry="6.1" fill="none" stroke="#5a3028" stroke-opacity="0.34" stroke-width="1.5"/>
<ellipse cx="1485.3" cy="460.1" rx="5.5" ry="4.3" fill="none" stroke="#5a3028" stroke-opacity="0.34" stroke-width="1.5"/>
<ellipse cx="1424.2" cy="600.0" rx="27.5" ry="18.9" fill="none" stroke="#5a3028" stroke-opacity="0.34" stroke-width="1.5" transform="rotate(-10 1424.2 600.0)"/>
<ellipse cx="1407.4" cy="648.9" rx="20.2" ry="29.3" fill="none" stroke="#5a3028" stroke-opacity="0.34" stroke-width="1.5" transform="rotate(-30 1407.4 648.9)"/>
<ellipse cx="1476.1" cy="563.3" rx="30.6" ry="12.8" fill="none" stroke="#5a3028" stroke-opacity="0.34" stroke-width="1.5" transform="rotate(-35 1476.1 563.3)"/>
<path d="M1301.9 532.8C1305.0 529.7 1313.7 523.1 1320.3 514.5C1326.9 505.8 1333.0 491.5 1341.7 480.8C1350.3 470.1 1362.0 459.4 1372.2 450.3C1382.4 441.1 1397.7 429.9 1402.8 425.8" fill="none" stroke="#5a3028" stroke-opacity="0.34" stroke-width="1.5"/>
<path d="M1283.6 575.6C1287.2 577.6 1300.4 580.7 1305.0 587.8C1309.6 594.9 1311.6 609.2 1311.1 618.3C1310.6 627.5 1303.5 638.7 1301.9 642.8" fill="none" stroke="#5a3028" stroke-opacity="0.34" stroke-width="1.5"/>
<path d="M1387.5 725.3C1389.0 722.8 1392.1 713.6 1396.7 710.0C1401.3 706.5 1408.9 702.9 1415.0 703.9C1421.1 704.9 1429.3 710.0 1433.3 716.1C1437.4 722.2 1438.4 736.5 1439.5 740.6" fill="none" stroke="#5a3028" stroke-opacity="0.34" stroke-width="1.5"/>
<path d="M1488.3 419.7C1489.4 423.3 1489.9 436.0 1494.5 441.1C1499.0 446.2 1509.7 445.2 1515.9 450.3C1522.0 455.4 1526.5 462.0 1531.1 471.7C1535.7 481.3 1539.3 497.1 1543.4 508.3C1547.4 519.5 1551.5 527.7 1555.6 538.9C1559.7 550.1 1566.8 565.4 1567.8 575.6C1568.8 585.8 1558.6 593.9 1561.7 600.0C1564.7 606.1 1577.0 606.1 1586.1 612.2C1595.3 618.3 1611.6 632.6 1616.7 636.7" fill="none" stroke="#5a3028" stroke-opacity="0.34" stroke-width="1.5"/>
<path d="M1567.8 655.0C1570.9 656.0 1581.0 659.1 1586.1 661.1C1591.2 663.2 1596.3 666.2 1598.4 667.2" fill="none" stroke="#5a3028" stroke-opacity="0.34" stroke-width="1.5"/>
<circle cx="1451.4" cy="581.4" r="124.80000000000001" fill="url(#sens)" opacity="0.22"/>
</g></g>
<ellipse cx="1451.4" cy="581.4" rx="130.8" ry="133.8" fill="none" stroke="#3a2a28" stroke-opacity="0.36" stroke-width="1.8"/>
<path d="M1426.4 450.59999999999997 L1450.4 425.59999999999997 L1474.4 450.59999999999997" fill="none" stroke="#3a2a28" stroke-opacity="0.36" stroke-width="1.8" stroke-linejoin="round"/>
<rect x="1305.6000000000001" y="558.9" width="15" height="56" rx="7" ry="7" fill="none" stroke="#3a2a28" stroke-opacity="0.36" stroke-width="1.8"/>
<rect x="1582.2" y="558.9" width="15" height="56" rx="7" ry="7" fill="none" stroke="#3a2a28" stroke-opacity="0.36" stroke-width="1.8"/>
<g filter="url(#be)"><g clip-path="url(#tc3)">
<rect x="231.39999999999998" y="913" width="422" height="422" fill="#fcc8b4"/>
<g filter="url(#bl)">
<rect x="231.39999999999998" y="913" width="422" height="422" fill="#fcc8b4"/>
<ellipse cx="291.9" cy="1133.9" rx="27.5" ry="61.1" fill="#fbc4ae"/>
<ellipse cx="331.7" cy="1027.0" rx="30.6" ry="30.6" fill="#fbc0aa"/>
<ellipse cx="591.4" cy="1118.6" rx="27.5" ry="67.2" fill="#fab9a2"/>
<ellipse cx="560.9" cy="1027.0" rx="30.6" ry="30.6" fill="#fbc5b0"/>
<ellipse cx="447.8" cy="993.3" rx="64.2" ry="27.5" fill="#f9ae97"/>
<path d="M340.8 1042.2C347.0 1035.1 358.7 1027.0 368.3 1023.9C378.0 1020.8 387.7 1023.4 398.9 1023.9C410.1 1024.4 426.4 1027.5 435.6 1027.0C444.7 1026.4 446.3 1021.9 453.9 1020.8C461.5 1019.8 475.8 1017.3 481.4 1020.8C487.0 1024.4 484.5 1036.1 487.5 1042.2C490.6 1048.3 492.1 1056.5 499.7 1057.5C507.4 1058.5 524.7 1047.8 533.4 1048.3C542.0 1048.9 547.6 1053.4 551.7 1060.6C555.8 1067.7 556.8 1078.9 557.8 1091.1C558.8 1103.3 560.9 1122.7 557.8 1133.9C554.7 1145.1 546.6 1153.3 539.5 1158.3C532.3 1163.4 525.2 1164.5 515.0 1164.5C504.8 1164.5 487.5 1160.4 478.3 1158.3C469.2 1156.3 464.1 1159.4 460.0 1152.2C455.9 1145.1 455.4 1126.8 453.9 1115.6C452.4 1104.4 453.9 1092.1 450.8 1085.0C447.8 1077.9 438.1 1070.8 435.6 1072.8C433.0 1074.8 437.6 1089.1 435.6 1097.2C433.5 1105.4 426.4 1114.6 423.3 1121.7C420.3 1128.8 421.3 1135.4 417.2 1140.0C413.2 1144.6 406.0 1145.6 398.9 1149.2C391.8 1152.7 381.6 1159.9 374.5 1161.4C367.3 1162.9 361.7 1160.9 356.1 1158.3C350.5 1155.8 343.4 1153.3 340.8 1146.1C338.3 1139.0 339.8 1124.7 340.8 1115.6C341.9 1106.4 348.5 1099.3 347.0 1091.1C345.4 1083.0 332.7 1074.8 331.7 1066.7C330.7 1058.5 334.7 1049.4 340.8 1042.2Z" fill="#fde0d4"/>
<ellipse cx="395.8" cy="1262.2" rx="29.0" ry="33.6" fill="#f58a6f"/>
<ellipse cx="447.8" cy="1271.4" rx="18.3" ry="18.3" fill="#fccfbd"/>
<ellipse cx="441.7" cy="1201.1" rx="88.6" ry="26.0" fill="#f58468"/>
</g>
<g filter="url(#bm)">
<ellipse cx="409.6" cy="973.5" rx="21.4" ry="24.4" fill="#f3745a"/>
<ellipse cx="481.4" cy="975.0" rx="21.4" ry="22.9" fill="#f68e74"/>
<ellipse cx="502.8" cy="1014.7" rx="16.8" ry="26.0" fill="#f79c83"/>
<ellipse cx="328.6" cy="1103.3" rx="15.3" ry="18.3" fill="#f9b49d"/>
<ellipse cx="443.2" cy="1078.9" rx="12.2" ry="15.3" fill="#fbc9b5"/>
<path d="M356.1 1182.8C358.2 1177.2 364.3 1175.2 371.4 1173.6C378.5 1172.1 390.2 1172.6 398.9 1173.6C407.6 1174.6 415.2 1178.2 423.3 1179.7C431.5 1181.3 439.6 1182.8 447.8 1182.8C455.9 1182.8 464.1 1180.8 472.2 1179.7C480.4 1178.7 489.6 1175.7 496.7 1176.7C503.8 1177.7 511.5 1181.3 515.0 1185.9C518.6 1190.4 518.6 1198.6 518.1 1204.2C517.6 1209.8 516.5 1216.4 512.0 1219.5C507.4 1222.5 498.2 1222.0 490.6 1222.5C482.9 1223.0 474.3 1222.0 466.1 1222.5C458.0 1223.0 450.8 1225.6 441.7 1225.6C432.5 1225.6 421.3 1223.5 411.1 1222.5C400.9 1221.5 389.2 1222.0 380.6 1219.5C371.9 1216.9 363.2 1213.4 359.2 1207.2C355.1 1201.1 354.1 1188.4 356.1 1182.8Z" fill="#f4775c"/>
<ellipse cx="392.8" cy="1232.3" rx="12.8" ry="6.1" fill="#fee3d8"/>
<ellipse cx="490.6" cy="1234.7" rx="6.7" ry="6.1" fill="#fee3d8"/>
<ellipse cx="460.0" cy="1240.9" rx="12.2" ry="8.6" fill="#fdd9cb"/>
</g>
<g filter="url(#bh)">
<ellipse cx="395.8" cy="1198.1" rx="28.1" ry="13.4" fill="#e63e2e"/>
<ellipse cx="493.6" cy="1201.1" rx="14.7" ry="17.1" fill="#ea4532" transform="rotate(20 493.6 1201.1)"/>
<ellipse cx="400.1" cy="1274.5" rx="18.9" ry="26.9" fill="#e23a2d"/>
<ellipse cx="398.9" cy="1286.7" rx="7.9" ry="8.6" fill="#c4161c"/>
</g>
<path d="M340.8 1146.1C343.4 1148.2 350.5 1155.8 356.1 1158.3C361.7 1160.9 367.3 1162.9 374.5 1161.4C381.6 1159.9 391.8 1152.7 398.9 1149.2C406.0 1145.6 413.2 1144.6 417.2 1140.0C421.3 1135.4 420.3 1128.8 423.3 1121.7C426.4 1114.6 434.6 1105.4 435.6 1097.2C436.6 1089.1 428.4 1078.6 429.5 1072.8C430.5 1066.9 437.1 1062.1 441.7 1062.1C446.3 1062.1 454.9 1068.0 457.0 1072.8C459.0 1077.6 454.4 1084.0 453.9 1091.1C453.4 1098.3 452.9 1105.4 453.9 1115.6C454.9 1125.8 455.9 1145.1 460.0 1152.2C464.1 1159.4 469.2 1156.3 478.3 1158.3C487.5 1160.4 506.9 1164.0 515.0 1164.5C523.2 1165.0 525.2 1161.9 527.2 1161.4" fill="none" stroke="#5a3028" stroke-opacity="0.34" stroke-width="1.5"/>
<path d="M356.1 1182.8C358.2 1177.2 364.3 1175.2 371.4 1173.6C378.5 1172.1 390.2 1172.6 398.9 1173.6C407.6 1174.6 415.2 1178.2 423.3 1179.7C431.5 1181.3 439.6 1182.8 447.8 1182.8C455.9 1182.8 464.1 1180.8 472.2 1179.7C480.4 1178.7 489.6 1175.7 496.7 1176.7C503.8 1177.7 511.5 1181.3 515.0 1185.9C518.6 1190.4 518.6 1198.6 518.1 1204.2C517.6 1209.8 516.5 1216.4 512.0 1219.5C507.4 1222.5 498.2 1222.0 490.6 1222.5C482.9 1223.0 474.3 1222.0 466.1 1222.5C458.0 1223.0 450.8 1225.6 441.7 1225.6C432.5 1225.6 421.3 1223.5 411.1 1222.5C400.9 1221.5 389.2 1222.0 380.6 1219.5C371.9 1216.9 363.2 1213.4 359.2 1207.2C355.1 1201.1 354.1 1188.4 356.1 1182.8Z" fill="none" stroke="#5a3028" stroke-opacity="0.34" stroke-width="1.5"/>
<ellipse cx="395.8" cy="1198.1" rx="27.5" ry="12.8" fill="none" stroke="#5a3028" stroke-opacity="0.34" stroke-width="1.5"/>
<ellipse cx="493.6" cy="1201.1" rx="14.1" ry="17.1" fill="none" stroke="#5a3028" stroke-opacity="0.34" stroke-width="1.5" transform="rotate(20 493.6 1201.1)"/>
<ellipse cx="392.8" cy="1232.3" rx="12.8" ry="6.1" fill="none" stroke="#5a3028" stroke-opacity="0.34" stroke-width="1.5"/>
<ellipse cx="490.6" cy="1234.7" rx="6.7" ry="6.1" fill="none" stroke="#5a3028" stroke-opacity="0.34" stroke-width="1.5"/>
<ellipse cx="398.9" cy="1276.0" rx="15.9" ry="22.9" fill="none" stroke="#5a3028" stroke-opacity="0.34" stroke-width="1.5"/>
<ellipse cx="328.6" cy="1103.3" rx="16.8" ry="21.4" fill="none" stroke="#5a3028" stroke-opacity="0.34" stroke-width="1.5"/>
<path d="M368.3 965.8C368.9 969.9 368.3 982.6 371.4 990.3C374.5 997.9 381.1 1005.6 386.7 1011.7C392.3 1017.8 396.9 1024.4 405.0 1027.0C413.2 1029.5 429.5 1029.0 435.6 1027.0C441.7 1024.9 437.6 1017.3 441.7 1014.7C445.8 1012.2 453.4 1010.7 460.0 1011.7C466.6 1012.7 476.8 1015.7 481.4 1020.8C486.0 1025.9 484.5 1036.1 487.5 1042.2C490.6 1048.3 495.2 1056.0 499.7 1057.5C504.3 1059.0 510.9 1056.5 515.0 1051.4C519.1 1046.3 522.1 1036.1 524.2 1027.0C526.2 1017.8 527.8 1005.6 527.2 996.4C526.7 987.2 522.1 976.0 521.1 971.9" fill="none" stroke="#5a3028" stroke-opacity="0.34" stroke-width="1.5"/>
<path d="M398.9 959.7C399.9 963.3 400.9 976.5 405.0 981.1C409.1 985.7 418.3 987.2 423.3 987.2C428.4 987.2 433.5 982.1 435.6 981.1" fill="none" stroke="#5a3028" stroke-opacity="0.34" stroke-width="1.5"/>
<path d="M460.0 962.8C461.0 966.3 462.1 979.1 466.1 984.2C470.2 989.3 478.3 988.8 484.5 993.3C490.6 997.9 498.7 1005.1 502.8 1011.7C506.9 1018.3 507.9 1029.5 508.9 1033.1" fill="none" stroke="#5a3028" stroke-opacity="0.34" stroke-width="1.5"/>
<path d="M298.1 1042.2C301.6 1043.8 313.8 1052.9 319.4 1051.4C325.1 1049.9 331.7 1039.7 331.7 1033.1C331.7 1026.4 321.5 1015.2 319.4 1011.7" fill="none" stroke="#5a3028" stroke-opacity="0.34" stroke-width="1.5"/>
<path d="M545.6 1027.0C547.1 1024.9 551.7 1017.3 554.7 1014.7C557.8 1012.2 562.4 1012.2 563.9 1011.7" fill="none" stroke="#5a3028" stroke-opacity="0.34" stroke-width="1.5"/>
<path d="M551.7 1066.7C552.2 1072.8 553.2 1092.1 554.7 1103.3C556.3 1114.6 557.3 1124.7 560.9 1133.9C564.4 1143.1 572.6 1149.2 576.1 1158.3C579.7 1167.5 579.7 1181.8 582.2 1188.9C584.8 1196.0 589.9 1199.1 591.4 1201.1" fill="none" stroke="#5a3028" stroke-opacity="0.34" stroke-width="1.5"/>
<path d="M331.7 1253.1C332.7 1248.5 335.7 1235.3 337.8 1225.6C339.8 1215.9 343.4 1203.7 343.9 1195.0C344.4 1186.4 338.8 1180.2 340.8 1173.6C342.9 1167.0 353.6 1158.3 356.1 1155.3" fill="none" stroke="#5a3028" stroke-opacity="0.34" stroke-width="1.5"/>
<path d="M350.0 1259.2C352.0 1256.1 357.1 1245.4 362.2 1240.9C367.3 1236.3 377.0 1229.7 380.6 1231.7C384.1 1233.7 384.1 1243.9 383.6 1253.1C383.1 1262.2 378.5 1281.1 377.5 1286.7" fill="none" stroke="#5a3028" stroke-opacity="0.34" stroke-width="1.5"/>
<path d="M429.5 1292.8C428.9 1286.7 429.5 1265.3 426.4 1256.1C423.3 1247.0 409.6 1241.4 411.1 1237.8C412.7 1234.2 426.4 1234.7 435.6 1234.7C444.7 1234.7 460.5 1234.2 466.1 1237.8C471.7 1241.4 469.2 1247.0 469.2 1256.1C469.2 1265.3 466.6 1286.7 466.1 1292.8" fill="none" stroke="#5a3028" stroke-opacity="0.34" stroke-width="1.5"/>
<path d="M515.0 1219.5C517.1 1220.5 522.1 1221.5 527.2 1225.6C532.3 1229.7 540.5 1238.8 545.6 1243.9C550.7 1249.0 555.8 1254.1 557.8 1256.1" fill="none" stroke="#5a3028" stroke-opacity="0.34" stroke-width="1.5"/>
<circle cx="442.2" cy="1122.2" r="125.30000000000001" fill="url(#sens)" opacity="0.22"/>
</g></g>
<ellipse cx="442.2" cy="1122.2" rx="131.3" ry="134.3" fill="none" stroke="#3a2a28" stroke-opacity="0.36" stroke-width="1.8"/>
<path d="M417.2 990.9000000000001 L441.2 970.4000000000001 L465.2 990.9000000000001" fill="none" stroke="#3a2a28" stroke-opacity="0.36" stroke-width="1.8" stroke-linejoin="round"/>
<rect x="295.9" y="1103.7" width="15" height="56" rx="7" ry="7" fill="none" stroke="#3a2a28" stroke-opacity="0.36" stroke-width="1.8"/>
<rect x="573.5" y="1103.7" width="15" height="56" rx="7" ry="7" fill="none" stroke="#3a2a28" stroke-opacity="0.36" stroke-width="1.8"/>
<g filter="url(#be)"><g clip-path="url(#tc4)">
<rect x="739.0" y="912.8000000000001" width="420.8" height="420.8" fill="#fbb7a0"/>
<g filter="url(#bl)">
<rect x="739.0" y="912.8000000000001" width="420.8" height="420.8" fill="#fbb7a0"/>
<ellipse cx="801.9" cy="1118.6" rx="27.5" ry="61.1" fill="#fcc9b6"/>
<ellipse cx="841.7" cy="1011.7" rx="30.6" ry="30.6" fill="#fbbfaa"/>
<ellipse cx="1073.9" cy="1036.1" rx="27.5" ry="33.6" fill="#f9a991"/>
<ellipse cx="1101.4" cy="1149.2" rx="24.4" ry="45.8" fill="#fcc6b2"/>
<ellipse cx="948.6" cy="1271.4" rx="61.1" ry="21.4" fill="#fbc2ad"/>
<ellipse cx="841.7" cy="1225.6" rx="36.7" ry="30.6" fill="#fdd5c5"/>
<ellipse cx="1040.3" cy="1240.9" rx="36.7" ry="27.5" fill="#fccdbb"/>
<ellipse cx="948.6" cy="1130.8" rx="107.0" ry="103.9" fill="#f8a087"/>
<path d="M866.1 1030.0C869.7 1023.4 879.4 1021.9 887.5 1020.8C895.7 1019.8 905.3 1025.4 915.0 1023.9C924.7 1022.4 934.4 1014.2 945.6 1011.7C956.8 1009.1 972.6 1007.1 982.2 1008.6C991.9 1010.1 998.5 1015.2 1003.6 1020.8C1008.7 1026.4 1013.3 1037.1 1012.8 1042.2C1012.3 1047.3 1002.1 1046.3 1000.6 1051.4C999.0 1056.5 999.6 1067.2 1003.6 1072.8C1007.7 1078.4 1018.4 1079.9 1025.0 1085.0C1031.6 1090.1 1039.3 1095.2 1043.4 1103.3C1047.4 1111.5 1049.5 1123.7 1049.5 1133.9C1049.5 1144.1 1047.4 1155.3 1043.4 1164.5C1039.3 1173.6 1031.1 1182.3 1025.0 1188.9C1018.9 1195.5 1013.8 1200.1 1006.7 1204.2C999.6 1208.3 992.4 1211.8 982.2 1213.4C972.1 1214.9 956.8 1213.9 945.6 1213.4C934.4 1212.8 925.2 1213.4 915.0 1210.3C904.8 1207.2 893.6 1201.6 884.5 1195.0C875.3 1188.4 866.6 1179.7 860.0 1170.6C853.4 1161.4 846.8 1150.2 844.7 1140.0C842.7 1129.8 844.7 1117.6 847.8 1109.5C850.8 1101.3 860.0 1099.3 863.1 1091.1C866.1 1083.0 865.6 1070.8 866.1 1060.6C866.6 1050.4 862.6 1036.6 866.1 1030.0Z" fill="#f68e74"/>
<ellipse cx="1025.0" cy="1057.5" rx="21.4" ry="24.4" fill="#fcc5b1"/>
</g>
<g filter="url(#bm)">
<path d="M872.2 999.4C875.8 994.4 888.5 989.8 896.7 990.3C904.8 990.8 913.0 999.4 921.1 1002.5C929.3 1005.6 939.5 1005.6 945.6 1008.6C951.7 1011.7 955.2 1014.2 957.8 1020.8C960.3 1027.5 961.4 1040.2 960.8 1048.3C960.3 1056.5 959.3 1065.7 954.7 1069.7C950.2 1073.8 940.0 1073.3 933.3 1072.8C926.7 1072.3 920.1 1070.8 915.0 1066.7C909.9 1062.6 906.4 1054.5 902.8 1048.3C899.2 1042.2 898.2 1034.6 893.6 1030.0C889.0 1025.4 878.9 1025.9 875.3 1020.8C871.7 1015.7 868.7 1004.5 872.2 999.4Z" fill="#f4795e"/>
<ellipse cx="982.2" cy="968.9" rx="12.2" ry="15.3" fill="#f58468"/>
<ellipse cx="887.5" cy="1002.5" rx="19.9" ry="13.8" fill="#f26248"/>
<path d="M853.9 1109.5C855.9 1101.8 865.6 1102.8 872.2 1100.3C878.9 1097.7 888.0 1092.7 893.6 1094.2C899.2 1095.7 902.3 1102.8 905.8 1109.5C909.4 1116.1 910.4 1127.8 915.0 1133.9C919.6 1140.0 927.2 1146.1 933.3 1146.1C939.5 1146.1 946.6 1133.9 951.7 1133.9C956.8 1133.9 958.8 1146.1 963.9 1146.1C969.0 1146.1 978.7 1141.0 982.2 1133.9C985.8 1126.8 983.3 1111.5 985.3 1103.3C987.3 1095.2 989.9 1086.0 994.5 1085.0C999.0 1084.0 1008.7 1091.1 1012.8 1097.2C1016.9 1103.3 1018.4 1112.5 1018.9 1121.7C1019.4 1130.8 1017.4 1143.1 1015.9 1152.2C1014.3 1161.4 1013.3 1169.6 1009.7 1176.7C1006.2 1183.8 1002.1 1190.9 994.5 1195.0C986.8 1199.1 974.1 1200.6 963.9 1201.1C953.7 1201.6 943.5 1200.1 933.3 1198.1C923.2 1196.0 912.0 1193.5 902.8 1188.9C893.6 1184.3 885.5 1177.7 878.3 1170.6C871.2 1163.4 864.1 1156.3 860.0 1146.1C855.9 1135.9 851.9 1117.1 853.9 1109.5Z" fill="#f47c61"/>
<ellipse cx="1034.2" cy="1118.6" rx="7.6" ry="18.3" fill="#fbbba5"/>
<ellipse cx="927.2" cy="1102.7" rx="7.6" ry="5.5" fill="#fddacc"/>
<path d="M939.5 1250.0C941.5 1247.0 954.7 1240.9 963.9 1237.8C973.1 1234.7 984.3 1234.7 994.5 1231.7C1004.6 1228.6 1016.9 1222.5 1025.0 1219.5C1033.2 1216.4 1041.3 1211.8 1043.4 1213.4C1045.4 1214.9 1042.3 1224.0 1037.2 1228.6C1032.1 1233.2 1022.0 1237.3 1012.8 1240.9C1003.6 1244.4 992.4 1247.5 982.2 1250.0C972.1 1252.6 958.8 1256.1 951.7 1256.1C944.6 1256.1 937.4 1253.1 939.5 1250.0Z" fill="#fdd5c5"/>
</g>
<g filter="url(#bh)">
<ellipse cx="892.7" cy="1114.7" rx="7.9" ry="9.2" fill="#ea4532"/>
<ellipse cx="882.9" cy="1155.0" rx="14.1" ry="9.8" fill="#ec4a36" transform="rotate(40 882.9 1155.0)"/>
<ellipse cx="926.9" cy="1174.5" rx="15.3" ry="11.6" fill="#ea4532" transform="rotate(20 926.9 1174.5)"/>
<ellipse cx="997.8" cy="1181.9" rx="9.8" ry="7.9" fill="#ec4a36" transform="rotate(-30 997.8 1181.9)"/>
<ellipse cx="997.8" cy="1120.8" rx="9.2" ry="17.7" fill="#f26248" transform="rotate(20 997.8 1120.8)"/>
<ellipse cx="945.6" cy="1187.4" rx="33.6" ry="11.0" fill="#f26248"/>
</g>
<path d="M866.1 1030.0C869.7 1023.4 879.4 1021.9 887.5 1020.8C895.7 1019.8 905.3 1025.4 915.0 1023.9C924.7 1022.4 934.4 1014.2 945.6 1011.7C956.8 1009.1 972.6 1007.1 982.2 1008.6C991.9 1010.1 998.5 1015.2 1003.6 1020.8C1008.7 1026.4 1013.3 1037.1 1012.8 1042.2C1012.3 1047.3 1002.1 1046.3 1000.6 1051.4C999.0 1056.5 999.6 1067.2 1003.6 1072.8C1007.7 1078.4 1018.4 1079.9 1025.0 1085.0C1031.6 1090.1 1039.3 1095.2 1043.4 1103.3C1047.4 1111.5 1049.5 1123.7 1049.5 1133.9C1049.5 1144.1 1047.4 1155.3 1043.4 1164.5C1039.3 1173.6 1031.1 1182.3 1025.0 1188.9C1018.9 1195.5 1013.8 1200.1 1006.7 1204.2C999.6 1208.3 992.4 1211.8 982.2 1213.4C972.1 1214.9 956.8 1213.9 945.6 1213.4C934.4 1212.8 925.2 1213.4 915.0 1210.3C904.8 1207.2 893.6 1201.6 884.5 1195.0C875.3 1188.4 866.6 1179.7 860.0 1170.6C853.4 1161.4 846.8 1150.2 844.7 1140.0C842.7 1129.8 844.7 1117.6 847.8 1109.5C850.8 1101.3 860.0 1099.3 863.1 1091.1C866.1 1083.0 865.6 1070.8 866.1 1060.6C866.6 1050.4 862.6 1036.6 866.1 1030.0Z" fill="none" stroke="#5a3028" stroke-opacity="0.34" stroke-width="1.5"/>
<path d="M872.2 999.4C875.8 994.4 888.5 989.8 896.7 990.3C904.8 990.8 913.0 999.4 921.1 1002.5C929.3 1005.6 939.5 1005.6 945.6 1008.6C951.7 1011.7 955.2 1014.2 957.8 1020.8C960.3 1027.5 961.4 1040.2 960.8 1048.3C960.3 1056.5 959.3 1065.7 954.7 1069.7C950.2 1073.8 940.0 1073.3 933.3 1072.8C926.7 1072.3 920.1 1070.8 915.0 1066.7C909.9 1062.6 906.4 1054.5 902.8 1048.3C899.2 1042.2 898.2 1034.6 893.6 1030.0C889.0 1025.4 878.9 1025.9 875.3 1020.8C871.7 1015.7 868.7 1004.5 872.2 999.4Z" fill="none" stroke="#5a3028" stroke-opacity="0.34" stroke-width="1.5"/>
<path d="M853.9 1109.5C855.9 1101.8 865.6 1102.8 872.2 1100.3C878.9 1097.7 888.0 1092.7 893.6 1094.2C899.2 1095.7 902.3 1102.8 905.8 1109.5C909.4 1116.1 910.4 1127.8 915.0 1133.9C919.6 1140.0 927.2 1146.1 933.3 1146.1C939.5 1146.1 946.6 1133.9 951.7 1133.9C956.8 1133.9 958.8 1146.1 963.9 1146.1C969.0 1146.1 978.7 1141.0 982.2 1133.9C985.8 1126.8 983.3 1111.5 985.3 1103.3C987.3 1095.2 989.9 1086.0 994.5 1085.0C999.0 1084.0 1008.7 1091.1 1012.8 1097.2C1016.9 1103.3 1018.4 1112.5 1018.9 1121.7C1019.4 1130.8 1017.4 1143.1 1015.9 1152.2C1014.3 1161.4 1013.3 1169.6 1009.7 1176.7C1006.2 1183.8 1002.1 1190.9 994.5 1195.0C986.8 1199.1 974.1 1200.6 963.9 1201.1C953.7 1201.6 943.5 1200.1 933.3 1198.1C923.2 1196.0 912.0 1193.5 902.8 1188.9C893.6 1184.3 885.5 1177.7 878.3 1170.6C871.2 1163.4 864.1 1156.3 860.0 1146.1C855.9 1135.9 851.9 1117.1 853.9 1109.5Z" fill="none" stroke="#5a3028" stroke-opacity="0.34" stroke-width="1.5"/>
<ellipse cx="892.7" cy="1114.7" rx="9.2" ry="10.4" fill="none" stroke="#5a3028" stroke-opacity="0.34" stroke-width="1.5"/>
<ellipse cx="882.9" cy="1155.0" rx="15.9" ry="11.6" fill="none" stroke="#5a3028" stroke-opacity="0.34" stroke-width="1.5" transform="rotate(40 882.9 1155.0)"/>
<ellipse cx="926.9" cy="1174.5" rx="17.1" ry="13.4" fill="none" stroke="#5a3028" stroke-opacity="0.34" stroke-width="1.5" transform="rotate(20 926.9 1174.5)"/>
<ellipse cx="997.8" cy="1181.9" rx="11.0" ry="9.2" fill="none" stroke="#5a3028" stroke-opacity="0.34" stroke-width="1.5" transform="rotate(-30 997.8 1181.9)"/>
<ellipse cx="997.8" cy="1120.8" rx="10.4" ry="19.6" fill="none" stroke="#5a3028" stroke-opacity="0.34" stroke-width="1.5" transform="rotate(20 997.8 1120.8)"/>
<ellipse cx="927.2" cy="1102.7" rx="7.6" ry="5.5" fill="none" stroke="#5a3028" stroke-opacity="0.34" stroke-width="1.5"/>
<ellipse cx="1034.2" cy="1118.6" rx="7.6" ry="18.3" fill="none" stroke="#5a3028" stroke-opacity="0.34" stroke-width="1.5"/>
<ellipse cx="982.2" cy="968.9" rx="12.2" ry="18.3" fill="none" stroke="#5a3028" stroke-opacity="0.34" stroke-width="1.5"/>
<path d="M939.5 1250.0C941.5 1247.0 954.7 1240.9 963.9 1237.8C973.1 1234.7 984.3 1234.7 994.5 1231.7C1004.6 1228.6 1016.9 1222.5 1025.0 1219.5C1033.2 1216.4 1041.3 1211.8 1043.4 1213.4C1045.4 1214.9 1042.3 1224.0 1037.2 1228.6C1032.1 1233.2 1022.0 1237.3 1012.8 1240.9C1003.6 1244.4 992.4 1247.5 982.2 1250.0C972.1 1252.6 958.8 1256.1 951.7 1256.1C944.6 1256.1 937.4 1253.1 939.5 1250.0Z" fill="none" stroke="#5a3028" stroke-opacity="0.34" stroke-width="1.5"/>
<path d="M780.6 1121.7C783.6 1123.7 791.8 1127.8 798.9 1133.9C806.0 1140.0 816.2 1149.2 823.3 1158.3C830.5 1167.5 837.6 1178.7 841.7 1188.9C845.7 1199.1 848.3 1208.8 847.8 1219.5C847.3 1230.2 840.1 1247.5 838.6 1253.1" fill="none" stroke="#5a3028" stroke-opacity="0.34" stroke-width="1.5"/>
<path d="M817.2 1020.8C820.3 1020.3 829.4 1021.3 835.6 1017.8C841.7 1014.2 848.8 1007.1 853.9 999.4C859.0 991.8 864.1 976.5 866.1 971.9" fill="none" stroke="#5a3028" stroke-opacity="0.34" stroke-width="1.5"/>
<path d="M1052.5 1020.8C1054.0 1018.8 1057.1 1010.1 1061.7 1008.6C1066.3 1007.1 1074.9 1007.6 1080.0 1011.7C1085.1 1015.7 1088.2 1022.9 1092.2 1033.1C1096.3 1043.2 1102.4 1066.2 1104.5 1072.8" fill="none" stroke="#5a3028" stroke-opacity="0.34" stroke-width="1.5"/>
<path d="M1070.9 1146.1C1073.4 1145.6 1080.5 1142.1 1086.1 1143.1C1091.7 1144.1 1099.4 1150.7 1104.5 1152.2C1109.6 1153.8 1114.7 1152.2 1116.7 1152.2" fill="none" stroke="#5a3028" stroke-opacity="0.34" stroke-width="1.5"/>
<path d="M786.7 1170.6C789.7 1171.1 799.9 1170.6 805.0 1173.6C810.1 1176.7 816.7 1183.8 817.2 1188.9C817.7 1194.0 809.6 1201.6 808.1 1204.2" fill="none" stroke="#5a3028" stroke-opacity="0.34" stroke-width="1.5"/>
<path d="M921.1 959.7C922.1 963.3 923.2 974.5 927.2 981.1C931.3 987.7 942.5 996.4 945.6 999.4" fill="none" stroke="#5a3028" stroke-opacity="0.34" stroke-width="1.5"/>
<circle cx="950" cy="1122.6" r="127.30000000000001" fill="url(#sens)" opacity="0.22"/>
</g></g>
<ellipse cx="950" cy="1122.6" rx="133.3" ry="135" fill="none" stroke="#3a2a28" stroke-opacity="0.36" stroke-width="1.8"/>
<path d="M926 990.5999999999999 L950 970.5999999999999 L974 990.5999999999999" fill="none" stroke="#3a2a28" stroke-opacity="0.36" stroke-width="1.8" stroke-linejoin="round"/>
<rect x="801.7" y="1105.0" width="15" height="56" rx="7" ry="7" fill="none" stroke="#3a2a28" stroke-opacity="0.36" stroke-width="1.8"/>
<rect x="1083.3" y="1105.0" width="15" height="56" rx="7" ry="7" fill="none" stroke="#3a2a28" stroke-opacity="0.36" stroke-width="1.8"/>
<g filter="url(#be)"><g clip-path="url(#tc5)">
<rect x="1228.9" y="914.6999999999999" width="419.2" height="419.2" fill="#faae97"/>
<g filter="url(#bl)">
<rect x="1228.9" y="914.6999999999999" width="419.2" height="419.2" fill="#faae97"/>
<ellipse cx="1286.7" cy="1118.6" rx="24.4" ry="61.1" fill="#f9a68d"/>
<ellipse cx="1433.3" cy="968.9" rx="61.1" ry="18.3" fill="#faae97"/>
<ellipse cx="1540.3" cy="1011.7" rx="45.8" ry="36.7" fill="#f9a28a"/>
<ellipse cx="1592.2" cy="1103.3" rx="21.4" ry="36.7" fill="#fab49d"/>
<ellipse cx="1433.3" cy="1271.4" rx="61.1" ry="21.4" fill="#fbbba5"/>
<ellipse cx="1326.4" cy="1225.6" rx="30.6" ry="30.6" fill="#fab49d"/>
<ellipse cx="1350.8" cy="1066.7" rx="39.7" ry="39.7" fill="#fdd5c5"/>
<ellipse cx="1433.3" cy="1109.5" rx="30.6" ry="24.4" fill="#fdd6c7"/>
<ellipse cx="1518.9" cy="1158.3" rx="18.3" ry="18.3" fill="#fccbb8"/>
<ellipse cx="1448.6" cy="1240.9" rx="45.8" ry="15.3" fill="#fdd5c5"/>
<ellipse cx="1378.3" cy="1017.8" rx="30.6" ry="18.3" fill="#fccbb8"/>
<ellipse cx="1494.5" cy="1048.3" rx="24.4" ry="18.3" fill="#fcc8b4"/>
<path d="M1323.3 1133.9C1326.4 1125.8 1334.0 1115.6 1338.6 1109.5C1343.2 1103.3 1347.8 1096.2 1350.8 1097.2C1353.9 1098.3 1354.4 1110.5 1357.0 1115.6C1359.5 1120.7 1360.0 1125.8 1366.1 1127.8C1372.2 1129.8 1385.5 1125.2 1393.6 1127.8C1401.8 1130.3 1408.4 1138.0 1415.0 1143.1C1421.6 1148.2 1426.2 1155.3 1433.3 1158.3C1440.5 1161.4 1453.2 1157.8 1457.8 1161.4C1462.4 1165.0 1461.9 1174.1 1460.8 1179.7C1459.8 1185.3 1451.2 1189.4 1451.7 1195.0C1452.2 1200.6 1462.9 1208.3 1463.9 1213.4C1464.9 1218.4 1462.9 1223.0 1457.8 1225.6C1452.7 1228.1 1441.5 1226.6 1433.3 1228.6C1425.2 1230.7 1417.0 1237.3 1408.9 1237.8C1400.8 1238.3 1392.6 1235.8 1384.5 1231.7C1376.3 1227.6 1367.6 1221.5 1360.0 1213.4C1352.4 1205.2 1345.2 1192.0 1338.6 1182.8C1332.0 1173.6 1322.8 1166.5 1320.3 1158.3C1317.7 1150.2 1320.3 1142.1 1323.3 1133.9Z" fill="#f58468"/>
</g>
<g filter="url(#bm)">
<ellipse cx="1580.0" cy="1195.0" rx="24.4" ry="21.4" fill="#fee3d8"/>
<path d="M1393.6 1054.5C1395.1 1048.9 1402.3 1040.2 1408.9 1036.1C1415.5 1032.0 1426.2 1030.0 1433.3 1030.0C1440.5 1030.0 1445.6 1035.6 1451.7 1036.1C1457.8 1036.6 1464.9 1030.5 1470.0 1033.1C1475.1 1035.6 1479.7 1045.8 1482.2 1051.4C1484.8 1057.0 1487.3 1062.6 1485.3 1066.7C1483.3 1070.8 1476.6 1073.8 1470.0 1075.8C1463.4 1077.9 1453.7 1079.4 1445.6 1078.9C1437.4 1078.4 1428.8 1074.3 1421.1 1072.8C1413.5 1071.3 1404.3 1072.8 1399.7 1069.7C1395.1 1066.7 1392.1 1060.1 1393.6 1054.5Z" fill="#f79a81"/>
<ellipse cx="1421.1" cy="1054.5" rx="18.3" ry="13.8" fill="#f47c61"/>
<ellipse cx="1467.0" cy="1005.6" rx="18.3" ry="10.7" fill="#f26a50"/>
<ellipse cx="1522.0" cy="1085.0" rx="12.2" ry="10.7" fill="#f9a58c"/>
<ellipse cx="1470.0" cy="1109.5" rx="15.3" ry="15.3" fill="#f9a58c"/>
<ellipse cx="1543.4" cy="1133.9" rx="15.3" ry="26.0" fill="#f79a81" transform="rotate(30 1543.4 1133.9)"/>
<ellipse cx="1500.6" cy="1188.9" rx="21.4" ry="24.4" fill="#f8a087" transform="rotate(30 1500.6 1188.9)"/>
<path d="M1353.9 1146.1C1355.9 1141.0 1361.0 1135.9 1366.1 1133.9C1371.2 1131.9 1378.3 1132.9 1384.5 1133.9C1390.6 1134.9 1397.7 1135.9 1402.8 1140.0C1407.9 1144.1 1412.0 1152.2 1415.0 1158.3C1418.1 1164.5 1418.1 1170.6 1421.1 1176.7C1424.2 1182.8 1430.3 1189.9 1433.3 1195.0C1436.4 1200.1 1440.5 1202.7 1439.5 1207.2C1438.4 1211.8 1432.3 1219.5 1427.2 1222.5C1422.1 1225.6 1415.0 1226.1 1408.9 1225.6C1402.8 1225.1 1396.7 1223.0 1390.6 1219.5C1384.5 1215.9 1377.3 1210.3 1372.2 1204.2C1367.1 1198.1 1363.1 1189.4 1360.0 1182.8C1357.0 1176.2 1354.9 1170.6 1353.9 1164.5C1352.9 1158.3 1351.9 1151.2 1353.9 1146.1Z" fill="#e8402f"/>
<ellipse cx="1494.5" cy="1137.0" rx="11.0" ry="15.3" fill="#ec4a36"/>
</g>
<g filter="url(#bh)">
<ellipse cx="1378.3" cy="1161.4" rx="16.8" ry="19.9" fill="#dc2f27"/>
<ellipse cx="1386.0" cy="1179.7" rx="19.9" ry="26.0" fill="#c4161c" transform="rotate(-30 1386.0 1179.7)"/>
<ellipse cx="1396.1" cy="1194.4" rx="25.1" ry="16.5" fill="#8c0a12" transform="rotate(40 1396.1 1194.4)"/>
<ellipse cx="1397.3" cy="1195.9" rx="14.1" ry="9.2" fill="#67000d" transform="rotate(40 1397.3 1195.9)"/>
<ellipse cx="1421.1" cy="1210.3" rx="16.8" ry="12.2" fill="#e0382c"/>
<ellipse cx="1494.5" cy="1137.6" rx="3.1" ry="3.1" fill="#cb181d"/>
<ellipse cx="1378.3" cy="1159.0" rx="4.0" ry="4.0" fill="#fde0d4"/>
</g>
<path d="M1323.3 1133.9C1326.4 1125.8 1334.0 1115.6 1338.6 1109.5C1343.2 1103.3 1347.8 1096.2 1350.8 1097.2C1353.9 1098.3 1354.4 1110.5 1357.0 1115.6C1359.5 1120.7 1360.0 1125.8 1366.1 1127.8C1372.2 1129.8 1385.5 1125.2 1393.6 1127.8C1401.8 1130.3 1408.4 1138.0 1415.0 1143.1C1421.6 1148.2 1426.2 1155.3 1433.3 1158.3C1440.5 1161.4 1453.2 1157.8 1457.8 1161.4C1462.4 1165.0 1461.9 1174.1 1460.8 1179.7C1459.8 1185.3 1451.2 1189.4 1451.7 1195.0C1452.2 1200.6 1462.9 1208.3 1463.9 1213.4C1464.9 1218.4 1462.9 1223.0 1457.8 1225.6C1452.7 1228.1 1441.5 1226.6 1433.3 1228.6C1425.2 1230.7 1417.0 1237.3 1408.9 1237.8C1400.8 1238.3 1392.6 1235.8 1384.5 1231.7C1376.3 1227.6 1367.6 1221.5 1360.0 1213.4C1352.4 1205.2 1345.2 1192.0 1338.6 1182.8C1332.0 1173.6 1322.8 1166.5 1320.3 1158.3C1317.7 1150.2 1320.3 1142.1 1323.3 1133.9Z" fill="none" stroke="#5a3028" stroke-opacity="0.34" stroke-width="1.5"/>
<path d="M1393.6 1054.5C1395.1 1048.9 1402.3 1040.2 1408.9 1036.1C1415.5 1032.0 1426.2 1030.0 1433.3 1030.0C1440.5 1030.0 1445.6 1035.6 1451.7 1036.1C1457.8 1036.6 1464.9 1030.5 1470.0 1033.1C1475.1 1035.6 1479.7 1045.8 1482.2 1051.4C1484.8 1057.0 1487.3 1062.6 1485.3 1066.7C1483.3 1070.8 1476.6 1073.8 1470.0 1075.8C1463.4 1077.9 1453.7 1079.4 1445.6 1078.9C1437.4 1078.4 1428.8 1074.3 1421.1 1072.8C1413.5 1071.3 1404.3 1072.8 1399.7 1069.7C1395.1 1066.7 1392.1 1060.1 1393.6 1054.5Z" fill="none" stroke="#5a3028" stroke-opacity="0.34" stroke-width="1.5"/>
<path d="M1353.9 1146.1C1355.9 1141.0 1361.0 1135.9 1366.1 1133.9C1371.2 1131.9 1378.3 1132.9 1384.5 1133.9C1390.6 1134.9 1397.7 1135.9 1402.8 1140.0C1407.9 1144.1 1412.0 1152.2 1415.0 1158.3C1418.1 1164.5 1418.1 1170.6 1421.1 1176.7C1424.2 1182.8 1430.3 1189.9 1433.3 1195.0C1436.4 1200.1 1440.5 1202.7 1439.5 1207.2C1438.4 1211.8 1432.3 1219.5 1427.2 1222.5C1422.1 1225.6 1415.0 1226.1 1408.9 1225.6C1402.8 1225.1 1396.7 1223.0 1390.6 1219.5C1384.5 1215.9 1377.3 1210.3 1372.2 1204.2C1367.1 1198.1 1363.1 1189.4 1360.0 1182.8C1357.0 1176.2 1354.9 1170.6 1353.9 1164.5C1352.9 1158.3 1351.9 1151.2 1353.9 1146.1Z" fill="none" stroke="#5a3028" stroke-opacity="0.34" stroke-width="1.5"/>
<ellipse cx="1522.0" cy="1085.0" rx="12.8" ry="11.6" fill="none" stroke="#5a3028" stroke-opacity="0.34" stroke-width="1.5"/>
<ellipse cx="1494.5" cy="1137.0" rx="12.2" ry="16.8" fill="none" stroke="#5a3028" stroke-opacity="0.34" stroke-width="1.5"/>
<ellipse cx="1500.6" cy="1188.9" rx="22.0" ry="25.1" fill="none" stroke="#5a3028" stroke-opacity="0.34" stroke-width="1.5" transform="rotate(30 1500.6 1188.9)"/>
<ellipse cx="1378.3" cy="1082.0" rx="3.7" ry="12.2" fill="none" stroke="#5a3028" stroke-opacity="0.34" stroke-width="1.5" transform="rotate(-30 1378.3 1082.0)"/>
<ellipse cx="1320.9" cy="1096.6" rx="3.1" ry="4.9" fill="none" stroke="#5a3028" stroke-opacity="0.34" stroke-width="1.5"/>
<ellipse cx="1378.3" cy="1159.0" rx="4.9" ry="4.9" fill="none" stroke="#5a3028" stroke-opacity="0.34" stroke-width="1.5"/>
<path d="M1448.6 1109.5C1450.7 1103.3 1459.3 1093.7 1463.9 1091.1C1468.5 1088.6 1472.6 1091.1 1476.1 1094.2C1479.7 1097.2 1482.2 1104.9 1485.3 1109.5C1488.3 1114.0 1494.0 1117.6 1494.5 1121.7C1495.0 1125.8 1490.4 1133.9 1488.3 1133.9C1486.3 1133.9 1485.3 1124.2 1482.2 1121.7C1479.2 1119.1 1473.1 1117.1 1470.0 1118.6C1467.0 1120.2 1467.0 1129.3 1463.9 1130.8C1460.8 1132.4 1454.2 1131.4 1451.7 1127.8C1449.1 1124.2 1446.6 1115.6 1448.6 1109.5Z" fill="none" stroke="#5a3028" stroke-opacity="0.34" stroke-width="1.5"/>
<path d="M1402.8 959.7C1404.8 963.3 1409.9 975.0 1415.0 981.1C1420.1 987.2 1428.3 991.3 1433.3 996.4C1438.4 1001.5 1440.5 1008.1 1445.6 1011.7C1450.7 1015.2 1457.8 1016.8 1463.9 1017.8C1470.0 1018.8 1478.7 1019.3 1482.2 1017.8C1485.8 1016.3 1486.3 1012.7 1485.3 1008.6C1484.3 1004.5 1474.6 996.4 1476.1 993.3C1477.7 990.3 1488.3 990.3 1494.5 990.3C1500.6 990.3 1508.7 988.2 1512.8 993.3C1516.9 998.4 1515.9 1013.2 1518.9 1020.8C1522.0 1028.5 1525.0 1035.6 1531.1 1039.2C1537.2 1042.7 1547.4 1042.2 1555.6 1042.2C1563.7 1042.2 1575.9 1039.7 1580.0 1039.2" fill="none" stroke="#5a3028" stroke-opacity="0.34" stroke-width="1.5"/>
<path d="M1525.0 1173.6C1526.0 1168.0 1528.1 1150.7 1531.1 1140.0C1534.2 1129.3 1538.3 1116.6 1543.4 1109.5C1548.4 1102.3 1558.6 1099.3 1561.7 1097.2" fill="none" stroke="#5a3028" stroke-opacity="0.34" stroke-width="1.5"/>
<path d="M1598.4 1173.6C1593.3 1173.6 1577.0 1172.1 1567.8 1173.6C1558.6 1175.2 1545.4 1177.2 1543.4 1182.8C1541.3 1188.4 1551.5 1200.6 1555.6 1207.2C1559.7 1213.9 1565.8 1220.0 1567.8 1222.5" fill="none" stroke="#5a3028" stroke-opacity="0.34" stroke-width="1.5"/>
<path d="M1295.8 1036.1C1297.9 1035.1 1306.5 1033.1 1308.1 1030.0C1309.6 1027.0 1305.5 1019.8 1305.0 1017.8" fill="none" stroke="#5a3028" stroke-opacity="0.34" stroke-width="1.5"/>
<circle cx="1436" cy="1123.4" r="123" fill="url(#sens)" opacity="0.22"/>
</g></g>
<ellipse cx="1436" cy="1123.4" rx="129" ry="133.2" fill="none" stroke="#3a2a28" stroke-opacity="0.36" stroke-width="1.8"/>
<path d="M1413 993.2 L1437 970.6 L1461 993.2" fill="none" stroke="#3a2a28" stroke-opacity="0.36" stroke-width="1.8" stroke-linejoin="round"/>
<rect x="1289.5" y="1104.4" width="15" height="56" rx="7" ry="7" fill="none" stroke="#3a2a28" stroke-opacity="0.36" stroke-width="1.8"/>
<rect x="1567.5" y="1104.4" width="15" height="56" rx="7" ry="7" fill="none" stroke="#3a2a28" stroke-opacity="0.36" stroke-width="1.8"/>
<g filter="url(#soft)">
<text transform="translate(21.6,70.6) scale(1.085,1)" font-size="70.6" font-weight="700" text-anchor="start" letter-spacing="-5.5">A.</text>
<text x="653.3" y="75.3" font-size="59.05" font-weight="700" text-anchor="start">Day 14 - absolute power</text>
<text transform="translate(449.8,235.3) scale(1.025,1)" font-size="48.5" font-weight="700" text-anchor="middle">Placebo</text>
<text transform="translate(956,235.3) scale(1.02,1)" font-size="48.5" font-weight="700" text-anchor="middle">5 mg</text>
<text transform="translate(1442.6,235.3) scale(1.015,1)" font-size="48.5" font-weight="700" text-anchor="middle">10 mg</text>
<text x="448.1" y="357.4" font-size="42.8" text-anchor="middle">Absolute gamma 1</text>
<text transform="translate(450.3,893.5) scale(1.008,1)" font-size="42.8" text-anchor="middle">Absolute gamma 2</text>
<text x="955.3" y="357.4" font-size="42.8" text-anchor="middle">Absolute gamma 1</text>
<text transform="translate(957.5,893.5) scale(1.008,1)" font-size="42.8" text-anchor="middle">Absolute gamma 2</text>
<text x="1440.1" y="357.4" font-size="42.8" text-anchor="middle">Absolute gamma 1</text>
<text transform="translate(1442.3,893.5) scale(1.008,1)" font-size="42.8" text-anchor="middle">Absolute gamma 2</text>
<text x="22.5" y="570.2" font-size="48.5" font-weight="700" text-anchor="start">alpha 1</text>
<text x="22.5" y="1107" font-size="48.5" font-weight="700" text-anchor="start">alpha 2</text>
<text transform="translate(1745.2,240.2) scale(1.025,1)" font-size="43.1" text-anchor="start">Legend</text>
<rect x="1745" y="273" width="155" height="2.3" fill="#6d7681"/>
<rect x="1750.4" y="320" width="35.59999999999991" height="425.6" fill="url(#cb1)"/>
<rect x="1786" y="320.7" width="19.8" height="4.6" fill="#6d7681"/>
<text x="1818.5" y="341.9" font-size="38.4" font-weight="700" text-anchor="start">1.50</text>
<rect x="1786" y="390.09999999999997" width="19.8" height="4.6" fill="#6d7681"/>
<text x="1818.5" y="406.1" font-size="38.4" font-weight="700" text-anchor="start">1.25</text>
<rect x="1786" y="460.5" width="19.8" height="4.6" fill="#6d7681"/>
<text x="1818.5" y="474.9" font-size="38.4" font-weight="700" text-anchor="start">1.00</text>
<rect x="1786" y="531.3000000000001" width="19.8" height="4.6" fill="#6d7681"/>
<text x="1818.5" y="544.2" font-size="38.4" font-weight="700" text-anchor="start">0.75</text>
<rect x="1786" y="600.5" width="19.8" height="4.6" fill="#6d7681"/>
<text x="1818.5" y="618.5" font-size="38.4" font-weight="700" text-anchor="start">0.50</text>
<rect x="1786" y="670.4000000000001" width="19.8" height="4.6" fill="#6d7681"/>
<text x="1818.5" y="682.7" font-size="38.4" font-weight="700" text-anchor="start">0.25</text>
<rect x="1786" y="741.4000000000001" width="19.8" height="4.6" fill="#6d7681"/>
<text x="1818.5" y="756.8" font-size="38.4" font-weight="700" text-anchor="start">0.00</text>
<rect x="1750.4" y="862.2" width="35.59999999999991" height="425.5" fill="url(#cb)"/>
<rect x="1786" y="862.9000000000001" width="19.8" height="4.6" fill="#6d7681"/>
<text x="1818.5" y="883.5" font-size="38.4" font-weight="700" text-anchor="start">1.0</text>
<rect x="1786" y="946.5" width="19.8" height="4.6" fill="#6d7681"/>
<text x="1818.5" y="963" font-size="38.4" font-weight="700" text-anchor="start">0.8</text>
<rect x="1786" y="1030.5" width="19.8" height="4.6" fill="#6d7681"/>
<text x="1818.5" y="1047" font-size="38.4" font-weight="700" text-anchor="start">0.6</text>
<rect x="1786" y="1114.7" width="19.8" height="4.6" fill="#6d7681"/>
<text x="1818.5" y="1131.1" font-size="38.4" font-weight="700" text-anchor="start">0.4</text>
<rect x="1786" y="1198.6000000000001" width="19.8" height="4.6" fill="#6d7681"/>
<text x="1818.5" y="1219" font-size="38.4" font-weight="700" text-anchor="start">0.2</text>
<rect x="1786" y="1283.1000000000001" width="19.8" height="4.6" fill="#6d7681"/>
<text x="1818.5" y="1298.4" font-size="38.4" font-weight="700" text-anchor="start">0.0</text>
</g>
<g filter="url(#soft)">
<text transform="translate(23.6,1518.6) scale(0.932,1)" font-size="73" font-weight="700" text-anchor="start" letter-spacing="-1">B.</text>
<rect x="301.7" y="1647.7" width="5.0" height="726.0000000000001" fill="#6d7681"/>
<rect x="274" y="2369.1" width="751" height="4.6" fill="#6d7681"/>
<rect x="274" y="1647.7" width="30" height="4.6" fill="#6d7681"/>
<text transform="translate(255.9,1665.4) scale(0.945,1)" font-size="47" font-weight="700" text-anchor="end">0.025</text>
<rect x="274" y="1791.98" width="30" height="4.6" fill="#6d7681"/>
<text transform="translate(255.9,1809.68) scale(0.945,1)" font-size="47" font-weight="700" text-anchor="end">0.020</text>
<rect x="274" y="1936.26" width="30" height="4.6" fill="#6d7681"/>
<text transform="translate(255.9,1953.96) scale(0.945,1)" font-size="47" font-weight="700" text-anchor="end">0.015</text>
<rect x="274" y="2080.54" width="30" height="4.6" fill="#6d7681"/>
<text transform="translate(255.9,2098.2400000000002) scale(0.945,1)" font-size="47" font-weight="700" text-anchor="end">0.010</text>
<rect x="274" y="2224.8199999999997" width="30" height="4.6" fill="#6d7681"/>
<text transform="translate(255.9,2242.52) scale(0.945,1)" font-size="47" font-weight="700" text-anchor="end">0.005</text>
<text transform="translate(255.9,2386.8) scale(0.945,1)" font-size="47" font-weight="700" text-anchor="end">0.000</text>
<text transform="translate(365.2,1574.3) scale(0.952,1)" font-size="60" font-weight="700" text-anchor="start">Isthmuscingulate - L</text>
<text transform="translate(746.8,1671) scale(0.951,1)" font-size="50.2" font-weight="700" text-anchor="start">p= 0.5994</text>
<text transform="translate(94,2014.5) rotate(-90) scale(0.955,1)" font-size="60.6" font-weight="700" text-anchor="middle">Alpha 2 (relative)</text>
<rect x="380.6" y="1936.9" width="135.30000000000007" height="142.4000000000001" fill="#fff"/>
<rect x="380.6" y="1936.9" width="135.30000000000007" height="142.4000000000001" fill="url(#dots)"/>
<rect x="380.75" y="1937.0500000000002" width="135.00000000000006" height="142.10000000000008" fill="none" stroke="#fdc888" stroke-width="4.3"/>
<rect x="378.6" y="2002.05" width="139.30000000000007" height="4.3" fill="#fdc888"/>
<circle cx="448" cy="1931.7" r="7.1" fill="#000"/>
<circle cx="448" cy="1996" r="7.1" fill="#000"/>
<circle cx="448" cy="2084" r="7.1" fill="#000"/>
<rect x="596.1999999999999" y="1758.0" width="135.30000000000007" height="268.0" fill="#fff"/>
<rect x="596.1999999999999" y="1758.0" width="135.30000000000007" height="268.0" fill="url(#dots)"/>
<rect x="596.3499999999999" y="1758.15" width="135.00000000000006" height="267.7" fill="none" stroke="#6ba0fa" stroke-width="4.3"/>
<rect x="594.1999999999999" y="1926.05" width="139.30000000000007" height="4.3" fill="#6ba0fa"/>
<circle cx="663.6" cy="1753" r="7.1" fill="#000"/>
<circle cx="663.6" cy="1821" r="7.1" fill="#000"/>
<circle cx="663.6" cy="1923" r="7.1" fill="#000"/>
<circle cx="649" cy="2015.7" r="7.1" fill="#000"/>
<circle cx="649" cy="2030" r="7.1" fill="#000"/>
<circle cx="677.8" cy="2027" r="7.1" fill="#000"/>
<rect x="812.5" y="1847.3" width="134.9000000000001" height="224.50000000000023" fill="#fff"/>
<rect x="812.5" y="1847.3" width="134.9000000000001" height="224.50000000000023" fill="url(#dots)"/>
<rect x="812.65" y="1847.45" width="134.60000000000008" height="224.20000000000022" fill="none" stroke="#0f38fb" stroke-width="4.3"/>
<rect x="810.5" y="1978.25" width="138.9000000000001" height="4.3" fill="#0f38fb"/>
<circle cx="879.5" cy="1842" r="7.1" fill="#000"/>
<circle cx="879.5" cy="2027.2" r="7.1" fill="#000"/>
<circle cx="879.5" cy="2076.7" r="7.1" fill="#000"/>
<rect x="1656.0" y="1646.7" width="4.4" height="726.0000000000001" fill="#6d7681"/>
<rect x="1631" y="2368.1" width="746.3000000000002" height="4.6" fill="#6d7681"/>
<rect x="1631" y="1646.7" width="27" height="4.6" fill="#6d7681"/>
<text transform="translate(1610.3,1668.9) scale(0.945,1)" font-size="47" font-weight="700" text-anchor="end">0.025</text>
<rect x="1631" y="1790.98" width="27" height="4.6" fill="#6d7681"/>
<text transform="translate(1610.3,1813.18) scale(0.945,1)" font-size="47" font-weight="700" text-anchor="end">0.020</text>
<rect x="1631" y="1935.26" width="27" height="4.6" fill="#6d7681"/>
<text transform="translate(1610.3,1957.46) scale(0.945,1)" font-size="47" font-weight="700" text-anchor="end">0.015</text>
<rect x="1631" y="2079.54" width="27" height="4.6" fill="#6d7681"/>
<text transform="translate(1610.3,2101.7400000000002) scale(0.945,1)" font-size="47" font-weight="700" text-anchor="end">0.010</text>
<rect x="1631" y="2223.8199999999997" width="27" height="4.6" fill="#6d7681"/>
<text transform="translate(1610.3,2246.02) scale(0.945,1)" font-size="47" font-weight="700" text-anchor="end">0.005</text>
<text transform="translate(1610.3,2390.3) scale(0.945,1)" font-size="47" font-weight="700" text-anchor="end">0.000</text>
<text transform="translate(1731.2,1573.5) scale(0.952,1)" font-size="60" font-weight="700" text-anchor="start">Isthmuscingulate - R</text>
<text transform="translate(2099.4,1670.5) scale(0.951,1)" font-size="50.2" font-weight="700" text-anchor="start">p= 0.0973</text>
<text transform="translate(1447.6,2014.5) rotate(-90) scale(0.955,1)" font-size="60.6" font-weight="700" text-anchor="middle">Alpha 2 (relative)</text>
<rect x="1734.1" y="2018.9" width="134.50000000000023" height="144.0" fill="#fff"/>
<rect x="1734.1" y="2018.9" width="134.50000000000023" height="144.0" fill="url(#dots)"/>
<rect x="1734.25" y="2019.0500000000002" width="134.20000000000022" height="143.7" fill="none" stroke="#fdd37a" stroke-width="4.3"/>
<rect x="1732.1" y="2072.85" width="138.50000000000023" height="4.3" fill="#fdd37a"/>
<circle cx="1801.6" cy="2014.4" r="7.1" fill="#000"/>
<circle cx="1801.6" cy="2043" r="7.1" fill="#000"/>
<circle cx="1801.6" cy="2168.7" r="7.1" fill="#000"/>
<rect x="1950.1" y="1802.2" width="135.5999999999999" height="239.5" fill="#fff"/>
<rect x="1950.1" y="1802.2" width="135.5999999999999" height="239.5" fill="url(#dots)"/>
<rect x="1950.25" y="1802.3500000000001" width="135.2999999999999" height="239.2" fill="none" stroke="#6ba0fa" stroke-width="4.3"/>
<rect x="1948.1" y="1931.55" width="139.5999999999999" height="4.3" fill="#6ba0fa"/>
<circle cx="2017.5" cy="1796.3" r="7.1" fill="#000"/>
<circle cx="2017.5" cy="1860.4" r="7.1" fill="#000"/>
<circle cx="2017.5" cy="1942" r="7.1" fill="#000"/>
<circle cx="2017.5" cy="1958.8" r="7.1" fill="#000"/>
<circle cx="2017.5" cy="1999" r="7.1" fill="#000"/>
<circle cx="2017.5" cy="2047.1" r="7.1" fill="#000"/>
<rect x="2165.3" y="1959.6000000000001" width="134.69999999999982" height="114.39999999999986" fill="#fff"/>
<rect x="2165.3" y="1959.6000000000001" width="134.69999999999982" height="114.39999999999986" fill="url(#dots)"/>
<rect x="2165.4500000000003" y="1959.7500000000002" width="134.3999999999998" height="114.09999999999987" fill="none" stroke="#0f38fb" stroke-width="4.3"/>
<rect x="2163.3" y="2013.1499999999999" width="138.69999999999982" height="4.3" fill="#0f38fb"/>
<circle cx="2232.2" cy="1954.2" r="7.1" fill="#000"/>
<circle cx="2232.2" cy="2015.7" r="7.1" fill="#000"/>
<circle cx="2232.2" cy="2077.7" r="7.1" fill="#000"/>
</g>
<g filter="url(#soft)">
<rect x="299.2" y="2654.8999999999996" width="4.4" height="726.4000000000002" fill="#6d7681"/>
<rect x="273.6" y="3376.7" width="749.4" height="4.6" fill="#6d7681"/>
<rect x="273.6" y="2654.8999999999996" width="27.599999999999966" height="4.6" fill="#6d7681"/>
<text transform="translate(254.9,2671.6) scale(0.945,1)" font-size="47" font-weight="700" text-anchor="end">0.03</text>
<rect x="273.6" y="2895.4999999999995" width="27.599999999999966" height="4.6" fill="#6d7681"/>
<text transform="translate(254.9,2912.2) scale(0.945,1)" font-size="47" font-weight="700" text-anchor="end">0.02</text>
<rect x="273.6" y="3136.1" width="27.599999999999966" height="4.6" fill="#6d7681"/>
<text transform="translate(254.9,3152.8) scale(0.945,1)" font-size="47" font-weight="700" text-anchor="end">0.01</text>
<text transform="translate(254.9,3393.4) scale(0.945,1)" font-size="47" font-weight="700" text-anchor="end">0.00</text>
<text transform="translate(448.7,2587.3) scale(0.952,1)" font-size="60" font-weight="700" text-anchor="start">paracentral - L</text>
<text transform="translate(743.6,2678.3) scale(0.951,1)" font-size="50.2" font-weight="700" text-anchor="start">p= 0.2803</text>
<text transform="translate(94,3018.5) rotate(-90) scale(0.955,1)" font-size="60.6" font-weight="700" text-anchor="middle">Alpha 2 (relative)</text>
<rect x="378.1" y="3028.2" width="134.89999999999998" height="168.60000000000036" fill="#fff"/>
<rect x="378.1" y="3028.2" width="134.89999999999998" height="168.60000000000036" fill="url(#dots)"/>
<rect x="378.25" y="3028.35" width="134.59999999999997" height="168.30000000000035" fill="none" stroke="#fdc888" stroke-width="4.3"/>
<rect x="376.1" y="3094.0499999999997" width="138.89999999999998" height="4.3" fill="#fdc888"/>
<circle cx="444.6" cy="3022.8" r="7.1" fill="#000"/>
<circle cx="444.6" cy="3061.8" r="7.1" fill="#000"/>
<circle cx="444.6" cy="3202.5" r="7.1" fill="#000"/>
<rect x="593.3" y="2697.2999999999997" width="134.60000000000014" height="364.80000000000064" fill="#fff"/>
<rect x="593.3" y="2697.2999999999997" width="134.60000000000014" height="364.80000000000064" fill="url(#dots)"/>
<rect x="593.4499999999999" y="2697.45" width="134.30000000000013" height="364.5000000000006" fill="none" stroke="#6ba0fa" stroke-width="4.3"/>
<rect x="591.3" y="2936.0499999999997" width="138.60000000000014" height="4.3" fill="#6ba0fa"/>
<circle cx="660" cy="2692" r="7.1" fill="#000"/>
<circle cx="660" cy="2820.8" r="7.1" fill="#000"/>
<circle cx="645.3" cy="3001" r="7.1" fill="#000"/>
<circle cx="674.2" cy="3001" r="7.1" fill="#000"/>
<circle cx="660" cy="3045.9" r="7.1" fill="#000"/>
<circle cx="660" cy="3067.4" r="7.1" fill="#000"/>
<rect x="808.4" y="2832.6" width="134.9000000000001" height="262.10000000000036" fill="#fff"/>
<rect x="808.4" y="2832.6" width="134.9000000000001" height="262.10000000000036" fill="url(#dots)"/>
<rect x="808.55" y="2832.75" width="134.60000000000008" height="261.80000000000035" fill="none" stroke="#0f38fb" stroke-width="4.3"/>
<rect x="806.4" y="2941.95" width="138.9000000000001" height="4.3" fill="#0f38fb"/>
<circle cx="875.9" cy="2825.9" r="7.1" fill="#000"/>
<circle cx="875.9" cy="2907.5" r="7.1" fill="#000"/>
<circle cx="875.9" cy="3098.6" r="7.1" fill="#000"/>
<rect x="1658.3" y="2654.8999999999996" width="4.4" height="726.2000000000004" fill="#6d7681"/>
<rect x="1633.3" y="3376.5" width="743.7" height="4.6" fill="#6d7681"/>
<rect x="1633.3" y="2654.8999999999996" width="27.0" height="4.6" fill="#6d7681"/>
<text transform="translate(1609.3,2671.3999999999996) scale(0.945,1)" font-size="47" font-weight="700" text-anchor="end">0.04</text>
<rect x="1633.3" y="2835.2999999999997" width="27.0" height="4.6" fill="#6d7681"/>
<text transform="translate(1609.3,2851.7999999999997) scale(0.945,1)" font-size="47" font-weight="700" text-anchor="end">0.03</text>
<rect x="1633.3" y="3015.7" width="27.0" height="4.6" fill="#6d7681"/>
<text transform="translate(1609.3,3032.2) scale(0.945,1)" font-size="47" font-weight="700" text-anchor="end">0.02</text>
<rect x="1633.3" y="3196.1" width="27.0" height="4.6" fill="#6d7681"/>
<text transform="translate(1609.3,3212.6) scale(0.945,1)" font-size="47" font-weight="700" text-anchor="end">0.01</text>
<text transform="translate(1609.3,3393.0) scale(0.945,1)" font-size="47" font-weight="700" text-anchor="end">0.00</text>
<text transform="translate(1812.0,2587.5) scale(0.952,1)" font-size="60" font-weight="700" text-anchor="start">paracentral - R</text>
<text transform="translate(2102.2,2678.4) scale(0.951,1)" font-size="50.2" font-weight="700" text-anchor="start">p= 0.0591</text>
<text transform="translate(1447.6,3018.5) rotate(-90) scale(0.955,1)" font-size="60.6" font-weight="700" text-anchor="middle">Alpha 2 (relative)</text>
<rect x="1736.0" y="3191.5" width="134.9000000000001" height="33.80000000000018" fill="#fff"/>
<rect x="1736.0" y="3191.5" width="134.9000000000001" height="33.80000000000018" fill="url(#dots)"/>
<rect x="1736.15" y="3191.65" width="134.60000000000008" height="33.500000000000185" fill="none" stroke="#fdc888" stroke-width="4.3"/>
<rect x="1734.0" y="3204.65" width="138.9000000000001" height="4.3" fill="#fdc888"/>
<circle cx="1789.6" cy="3185.5" r="7.1" fill="#000"/>
<circle cx="1818.4" cy="3198.3" r="7.1" fill="#000"/>
<circle cx="1804" cy="3229.7" r="7.1" fill="#000"/>
<rect x="1953.0" y="2864.1" width="133.89999999999964" height="259.9000000000001" fill="#fff"/>
<rect x="1953.0" y="2864.1" width="133.89999999999964" height="259.9000000000001" fill="url(#dots)"/>
<rect x="1953.15" y="2864.25" width="133.59999999999962" height="259.6000000000001" fill="none" stroke="#6ba0fa" stroke-width="4.3"/>
<rect x="1951.0" y="3006.85" width="137.89999999999964" height="4.3" fill="#6ba0fa"/>
<circle cx="2019.4" cy="2858.6" r="7.1" fill="#000"/>
<circle cx="2019.4" cy="2950.9" r="7.1" fill="#000"/>
<circle cx="2019.4" cy="2965.2" r="7.1" fill="#000"/>
<circle cx="2019.4" cy="3050.6" r="7.1" fill="#000"/>
<circle cx="2019.4" cy="3094.8" r="7.1" fill="#000"/>
<circle cx="2019.4" cy="3130.5" r="7.1" fill="#000"/>
<rect x="2168.4" y="2921.1" width="133.89999999999964" height="260.00000000000045" fill="#fff"/>
<rect x="2168.4" y="2921.1" width="133.89999999999964" height="260.00000000000045" fill="url(#dots)"/>
<rect x="2168.55" y="2921.25" width="133.59999999999962" height="259.70000000000044" fill="none" stroke="#0f38fb" stroke-width="4.3"/>
<rect x="2166.4" y="3048.45" width="137.89999999999964" height="4.3" fill="#0f38fb"/>
<circle cx="2234.8" cy="2915.7" r="7.1" fill="#000"/>
<circle cx="2234.8" cy="3051.6" r="7.1" fill="#000"/>
<circle cx="2234.8" cy="3186.5" r="7.1" fill="#000"/>
</g>
<g filter="url(#soft)">
<rect x="297.8" y="3664.0" width="4.4" height="724.9000000000002" fill="#6d7681"/>
<rect x="270.4" y="4384.3" width="748.6" height="4.6" fill="#6d7681"/>
<rect x="270.4" y="3664.0" width="29.400000000000034" height="4.6" fill="#6d7681"/>
<text transform="translate(255.9,3680.1000000000004) scale(0.945,1)" font-size="47" font-weight="700" text-anchor="end">0.020</text>
<rect x="270.4" y="3844.075" width="29.400000000000034" height="4.6" fill="#6d7681"/>
<text transform="translate(255.9,3860.175) scale(0.945,1)" font-size="47" font-weight="700" text-anchor="end">0.015</text>
<rect x="270.4" y="4024.15" width="29.400000000000034" height="4.6" fill="#6d7681"/>
<text transform="translate(255.9,4040.2500000000005) scale(0.945,1)" font-size="47" font-weight="700" text-anchor="end">0.010</text>
<rect x="270.4" y="4204.225" width="29.400000000000034" height="4.6" fill="#6d7681"/>
<text transform="translate(255.9,4220.325000000001) scale(0.945,1)" font-size="47" font-weight="700" text-anchor="end">0.005</text>
<text transform="translate(255.9,4400.400000000001) scale(0.945,1)" font-size="47" font-weight="700" text-anchor="end">0.000</text>
<text transform="translate(396.0,3589.5) scale(0.952,1)" font-size="60" font-weight="700" text-anchor="start">superiorfrontal - L</text>
<text transform="translate(740.9,3686) scale(0.951,1)" font-size="50.2" font-weight="700" text-anchor="start">p= 0.0388</text>
<text transform="translate(68.8,4026.5) rotate(-90) scale(0.955,1)" font-size="60.6" font-weight="700" text-anchor="middle">Alpha 2 (relative)</text>
<rect x="376.3" y="4081.4" width="134.90000000000003" height="132.9000000000001" fill="#fff"/>
<rect x="376.3" y="4081.4" width="134.90000000000003" height="132.9000000000001" fill="url(#dots)"/>
<rect x="376.45" y="4081.55" width="134.60000000000002" height="132.60000000000008" fill="none" stroke="#fdc888" stroke-width="4.3"/>
<rect x="374.3" y="4161.450000000001" width="138.90000000000003" height="4.3" fill="#fdc888"/>
<circle cx="442.8" cy="4076.5" r="7.1" fill="#000"/>
<circle cx="442.8" cy="4198" r="7.1" fill="#000"/>
<circle cx="442.8" cy="4219" r="7.1" fill="#000"/>
<rect x="591.5999999999999" y="3820.9" width="134.0000000000001" height="227.0999999999999" fill="#fff"/>
<rect x="591.5999999999999" y="3820.9" width="134.0000000000001" height="227.0999999999999" fill="url(#dots)"/>
<rect x="591.7499999999999" y="3821.05" width="133.7000000000001" height="226.7999999999999" fill="none" stroke="#6ba0fa" stroke-width="4.3"/>
<rect x="589.5999999999999" y="3936.0499999999997" width="138.0000000000001" height="4.3" fill="#6ba0fa"/>
<circle cx="658.1" cy="3815.8" r="7.1" fill="#000"/>
<circle cx="658.1" cy="3858.4" r="7.1" fill="#000"/>
<circle cx="658.1" cy="3912" r="7.1" fill="#000"/>
<circle cx="658.1" cy="3946" r="7.1" fill="#000"/>
<circle cx="643.9" cy="4051.8" r="7.1" fill="#000"/>
<circle cx="672.8" cy="4051.8" r="7.1" fill="#000"/>
<rect x="807.5" y="3836.3" width="134.4000000000001" height="247.0999999999999" fill="#fff"/>
<rect x="807.5" y="3836.3" width="134.4000000000001" height="247.0999999999999" fill="url(#dots)"/>
<rect x="807.65" y="3836.4500000000003" width="134.10000000000008" height="246.7999999999999" fill="none" stroke="#0f38fb" stroke-width="4.3"/>
<rect x="805.5" y="3986.45" width="138.4000000000001" height="4.3" fill="#0f38fb"/>
<circle cx="874.5" cy="3831.8" r="7.1" fill="#000"/>
<circle cx="874.5" cy="4047.2" r="7.1" fill="#000"/>
<circle cx="874.5" cy="4087.1" r="7.1" fill="#000"/>
<rect x="1656.5" y="3663.8999999999996" width="4.4" height="724.6" fill="#6d7681"/>
<rect x="1628.7" y="4383.9" width="748.3" height="4.6" fill="#6d7681"/>
<rect x="1628.7" y="3663.8999999999996" width="29.799999999999955" height="4.6" fill="#6d7681"/>
<text transform="translate(1609.8,3680.2) scale(0.945,1)" font-size="47" font-weight="700" text-anchor="end">0.020</text>
<rect x="1628.7" y="3843.8999999999996" width="29.799999999999955" height="4.6" fill="#6d7681"/>
<text transform="translate(1609.8,3860.2) scale(0.945,1)" font-size="47" font-weight="700" text-anchor="end">0.015</text>
<rect x="1628.7" y="4023.8999999999996" width="29.799999999999955" height="4.6" fill="#6d7681"/>
<text transform="translate(1609.8,4040.2) scale(0.945,1)" font-size="47" font-weight="700" text-anchor="end">0.010</text>
<rect x="1628.7" y="4203.9" width="29.799999999999955" height="4.6" fill="#6d7681"/>
<text transform="translate(1609.8,4220.2) scale(0.945,1)" font-size="47" font-weight="700" text-anchor="end">0.005</text>
<text transform="translate(1609.8,4400.2) scale(0.945,1)" font-size="47" font-weight="700" text-anchor="end">0.000</text>
<text transform="translate(1761.6000000000001,3589.4) scale(0.952,1)" font-size="60" font-weight="700" text-anchor="start">superiorfrontal - R</text>
<text transform="translate(2100.6,3688) scale(0.951,1)" font-size="50.2" font-weight="700" text-anchor="start">p= 0.2657</text>
<text transform="translate(1447.6,4026.5) rotate(-90) scale(0.955,1)" font-size="60.6" font-weight="700" text-anchor="middle">Alpha 2 (relative)</text>
<rect x="1734.3" y="4063.5" width="136.10000000000014" height="93.90000000000055" fill="#fff"/>
<rect x="1734.3" y="4063.5" width="136.10000000000014" height="93.90000000000055" fill="url(#dots)"/>
<rect x="1734.45" y="4063.65" width="135.80000000000013" height="93.60000000000055" fill="none" stroke="#fdc888" stroke-width="4.3"/>
<rect x="1732.3" y="4123.05" width="140.10000000000014" height="4.3" fill="#fdc888"/>
<circle cx="1802.4" cy="4058" r="7.1" fill="#000"/>
<circle cx="1788" cy="4161.5" r="7.1" fill="#000"/>
<circle cx="1816.2" cy="4158.3" r="7.1" fill="#000"/>
<rect x="1950.8" y="3778.7999999999997" width="133.89999999999986" height="327.6000000000008" fill="#fff"/>
<rect x="1950.8" y="3778.7999999999997" width="133.89999999999986" height="327.6000000000008" fill="url(#dots)"/>
<rect x="1950.95" y="3778.95" width="133.59999999999985" height="327.3000000000008" fill="none" stroke="#6ba0fa" stroke-width="4.3"/>
<rect x="1948.8" y="3940.15" width="137.89999999999986" height="4.3" fill="#6ba0fa"/>
<circle cx="2017.8" cy="3773.3" r="7.1" fill="#000"/>
<circle cx="2017.8" cy="3828.2" r="7.1" fill="#000"/>
<circle cx="2017.8" cy="3874.6" r="7.1" fill="#000"/>
<circle cx="2017.8" cy="3999.9" r="7.1" fill="#000"/>
<circle cx="2017.8" cy="4063.9" r="7.1" fill="#000"/>
<circle cx="2017.8" cy="4111.9" r="7.1" fill="#000"/>
<rect x="2166.3" y="3764.3999999999996" width="133.89999999999964" height="415.60000000000036" fill="#fff"/>
<rect x="2166.3" y="3764.3999999999996" width="133.89999999999964" height="415.60000000000036" fill="url(#dots)"/>
<rect x="2166.4500000000003" y="3764.5499999999997" width="133.59999999999962" height="415.30000000000035" fill="none" stroke="#0f38fb" stroke-width="4.3"/>
<rect x="2164.3" y="4003.0499999999997" width="137.89999999999964" height="4.3" fill="#0f38fb"/>
<circle cx="2233.2" cy="3758.9" r="7.1" fill="#000"/>
<circle cx="2233.2" cy="4076.2" r="7.1" fill="#000"/>
<circle cx="2233.2" cy="4184.9" r="7.1" fill="#000"/>
</g>
<g filter="url(#soft)">
<text transform="translate(301.8,4567.6) scale(1.025,1)" font-size="43" text-anchor="start">Legend</text>
<rect x="301" y="4600.8" width="1329.5" height="2.6" fill="#6d7681"/>
<rect x="298" y="4648.5" width="86.5" height="51" fill="#fdc888"/>
<rect x="308" y="4658.2" width="66.5" height="31.6" fill="#fff"/>
<rect x="308" y="4658.2" width="66.5" height="31.6" fill="url(#dots)"/>
<text x="413.2" y="4684" font-size="42.8" text-anchor="start">Placebo</text>
<rect x="769" y="4648.5" width="86.5" height="51" fill="#679dfa"/>
<rect x="779" y="4658.2" width="66.5" height="31.6" fill="#fff"/>
<rect x="779" y="4658.2" width="66.5" height="31.6" fill="url(#dots)"/>
<text x="884.2" y="4684" font-size="42.8" text-anchor="start">STP1 5/1</text>
<rect x="1310.8" y="4648.5" width="86.5" height="51" fill="#0a35fd"/>
<rect x="1320.8" y="4658.2" width="66.5" height="31.6" fill="#fff"/>
<rect x="1320.8" y="4658.2" width="66.5" height="31.6" fill="url(#dots)"/>
<text x="1424.2" y="4684" font-size="42.8" text-anchor="start">STP1 10/1</text>
</g>
</svg>
</body>
</html>
